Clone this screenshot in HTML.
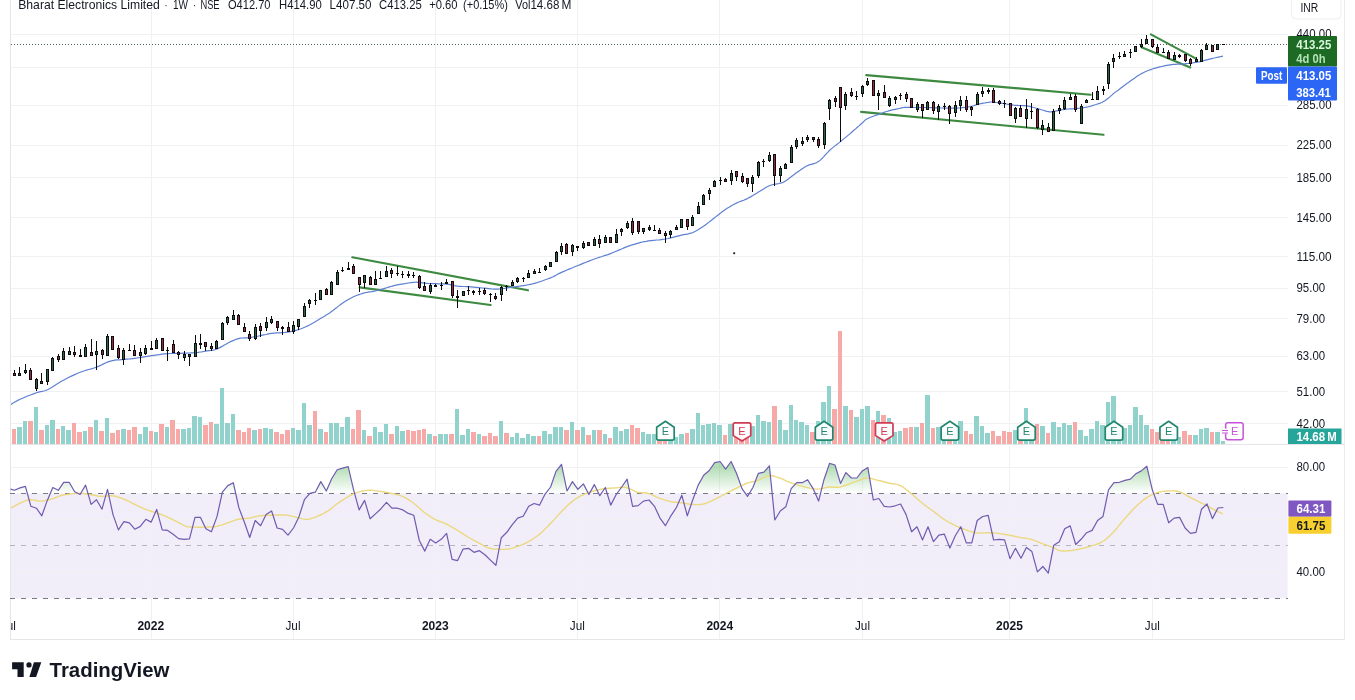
<!DOCTYPE html>
<html lang="en"><head><meta charset="utf-8"><title>Bharat Electronics Limited · 1W · NSE — TradingView</title>
<style>html,body{margin:0;padding:0;background:#fff}body{width:1355px;height:700px;overflow:hidden;position:relative;font-family:"Liberation Sans", Arial, sans-serif}</style>
</head><body>
<svg width="1355" height="700" viewBox="0 0 1355 700" style="position:absolute;left:0;top:0;font-family:"Liberation Sans", Arial, sans-serif">
<defs><linearGradient id="ob" x1="0" y1="467" x2="0" y2="493.4" gradientUnits="userSpaceOnUse"><stop offset="0" stop-color="#4caf50" stop-opacity="0.42"/><stop offset="1" stop-color="#4caf50" stop-opacity="0"/></linearGradient>
<clipPath id="ob70"><rect x="10" y="445" width="1278" height="48.4"/></clipPath>
<clipPath id="plot"><rect x="11" y="0" width="1277" height="640"/></clipPath></defs>
<rect width="1355" height="700" fill="#fff"/>
<rect x="11" y="493.4" width="1276.5" height="104.8" fill="#7e57c2" fill-opacity="0.105"/>
<rect x="11" y="34" width="1277" height="1" fill="#f0f1f3"/>
<rect x="11" y="67" width="1277" height="1" fill="#f0f1f3"/>
<rect x="11" y="105" width="1277" height="1" fill="#f0f1f3"/>
<rect x="11" y="145" width="1277" height="1" fill="#f0f1f3"/>
<rect x="11" y="177" width="1277" height="1" fill="#f0f1f3"/>
<rect x="11" y="217" width="1277" height="1" fill="#f0f1f3"/>
<rect x="11" y="256" width="1277" height="1" fill="#f0f1f3"/>
<rect x="11" y="288" width="1277" height="1" fill="#f0f1f3"/>
<rect x="11" y="318" width="1277" height="1" fill="#f0f1f3"/>
<rect x="11" y="356" width="1277" height="1" fill="#f0f1f3"/>
<rect x="11" y="391" width="1277" height="1" fill="#f0f1f3"/>
<rect x="11" y="423" width="1277" height="1" fill="#f0f1f3"/>
<rect x="11" y="467" width="1277" height="1" fill="#f0f1f3" />
<rect x="11" y="519" width="1277" height="1" fill="#f0f1f3" />
<rect x="11" y="572" width="1277" height="1" fill="#f0f1f3" />
<rect x="151" y="0" width="1" height="640" fill="#f0f1f3"/>
<rect x="293" y="0" width="1" height="640" fill="#f0f1f3"/>
<rect x="435" y="0" width="1" height="640" fill="#f0f1f3"/>
<rect x="577" y="0" width="1" height="640" fill="#f0f1f3"/>
<rect x="719" y="0" width="1" height="640" fill="#f0f1f3"/>
<rect x="862" y="0" width="1" height="640" fill="#f0f1f3"/>
<rect x="1009" y="0" width="1" height="640" fill="#f0f1f3"/>
<rect x="1152" y="0" width="1" height="640" fill="#f0f1f3"/>
<rect x="11" y="444" width="1333" height="1" fill="#e4e6ea"/>
<rect x="10" y="0" width="1" height="640" fill="#e4e6ea"/>
<rect x="1344" y="0" width="1" height="640" fill="#e9eaee"/>
<rect x="10" y="639" width="1335" height="1" fill="#e4e6ea"/>
<g shape-rendering="crispEdges">
<rect x="12" y="429" width="4" height="15" fill="#f7a9a7"/>
<rect x="17" y="427" width="5" height="17" fill="#92d2cc"/>
<rect x="23" y="421" width="4" height="23" fill="#92d2cc"/>
<rect x="28" y="421" width="5" height="23" fill="#f7a9a7"/>
<rect x="34" y="407" width="4" height="37" fill="#92d2cc"/>
<rect x="39" y="430" width="5" height="14" fill="#f7a9a7"/>
<rect x="45" y="425" width="4" height="19" fill="#92d2cc"/>
<rect x="50" y="420" width="5" height="24" fill="#92d2cc"/>
<rect x="56" y="429" width="4" height="15" fill="#f7a9a7"/>
<rect x="61" y="426" width="4" height="18" fill="#92d2cc"/>
<rect x="66" y="430" width="5" height="14" fill="#92d2cc"/>
<rect x="72" y="423" width="4" height="21" fill="#f7a9a7"/>
<rect x="77" y="432" width="5" height="12" fill="#f7a9a7"/>
<rect x="83" y="431" width="4" height="13" fill="#92d2cc"/>
<rect x="88" y="427" width="5" height="17" fill="#f7a9a7"/>
<rect x="94" y="420" width="4" height="24" fill="#92d2cc"/>
<rect x="99" y="431" width="5" height="13" fill="#f7a9a7"/>
<rect x="105" y="418" width="4" height="26" fill="#92d2cc"/>
<rect x="110" y="433" width="5" height="11" fill="#f7a9a7"/>
<rect x="116" y="430" width="4" height="14" fill="#f7a9a7"/>
<rect x="121" y="429" width="5" height="15" fill="#92d2cc"/>
<rect x="127" y="430" width="4" height="14" fill="#f7a9a7"/>
<rect x="132" y="427" width="5" height="17" fill="#f7a9a7"/>
<rect x="138" y="434" width="4" height="10" fill="#92d2cc"/>
<rect x="143" y="427" width="5" height="17" fill="#92d2cc"/>
<rect x="149" y="431" width="4" height="13" fill="#f7a9a7"/>
<rect x="154" y="432" width="4" height="12" fill="#92d2cc"/>
<rect x="159" y="424" width="5" height="20" fill="#f7a9a7"/>
<rect x="165" y="427" width="4" height="17" fill="#92d2cc"/>
<rect x="170" y="420" width="5" height="24" fill="#f7a9a7"/>
<rect x="176" y="429" width="4" height="15" fill="#f7a9a7"/>
<rect x="181" y="429" width="5" height="15" fill="#92d2cc"/>
<rect x="187" y="428" width="4" height="16" fill="#92d2cc"/>
<rect x="192" y="416" width="5" height="28" fill="#92d2cc"/>
<rect x="198" y="417" width="4" height="27" fill="#92d2cc"/>
<rect x="203" y="425" width="5" height="19" fill="#f7a9a7"/>
<rect x="209" y="422" width="4" height="22" fill="#f7a9a7"/>
<rect x="214" y="424" width="5" height="20" fill="#92d2cc"/>
<rect x="220" y="388" width="4" height="56" fill="#92d2cc"/>
<rect x="225" y="423" width="5" height="21" fill="#92d2cc"/>
<rect x="231" y="414" width="4" height="30" fill="#92d2cc"/>
<rect x="236" y="430" width="5" height="14" fill="#f7a9a7"/>
<rect x="242" y="432" width="4" height="12" fill="#f7a9a7"/>
<rect x="247" y="428" width="4" height="16" fill="#f7a9a7"/>
<rect x="252" y="430" width="5" height="14" fill="#92d2cc"/>
<rect x="258" y="429" width="4" height="15" fill="#f7a9a7"/>
<rect x="263" y="428" width="5" height="16" fill="#92d2cc"/>
<rect x="269" y="429" width="4" height="15" fill="#92d2cc"/>
<rect x="274" y="432" width="5" height="12" fill="#f7a9a7"/>
<rect x="280" y="434" width="4" height="10" fill="#f7a9a7"/>
<rect x="285" y="430" width="5" height="14" fill="#f7a9a7"/>
<rect x="291" y="428" width="4" height="16" fill="#92d2cc"/>
<rect x="296" y="430" width="5" height="14" fill="#92d2cc"/>
<rect x="302" y="403" width="4" height="41" fill="#92d2cc"/>
<rect x="307" y="425" width="5" height="19" fill="#92d2cc"/>
<rect x="313" y="411" width="4" height="33" fill="#f7a9a7"/>
<rect x="318" y="429" width="5" height="15" fill="#92d2cc"/>
<rect x="324" y="432" width="4" height="12" fill="#f7a9a7"/>
<rect x="329" y="423" width="4" height="21" fill="#92d2cc"/>
<rect x="334" y="423" width="5" height="21" fill="#92d2cc"/>
<rect x="340" y="427" width="4" height="17" fill="#92d2cc"/>
<rect x="345" y="417" width="5" height="27" fill="#92d2cc"/>
<rect x="351" y="429" width="4" height="15" fill="#f7a9a7"/>
<rect x="356" y="410" width="5" height="34" fill="#f7a9a7"/>
<rect x="362" y="430" width="4" height="14" fill="#92d2cc"/>
<rect x="367" y="436" width="5" height="8" fill="#f7a9a7"/>
<rect x="373" y="427" width="4" height="17" fill="#92d2cc"/>
<rect x="378" y="432" width="5" height="12" fill="#92d2cc"/>
<rect x="384" y="424" width="4" height="20" fill="#92d2cc"/>
<rect x="389" y="434" width="5" height="10" fill="#f7a9a7"/>
<rect x="395" y="426" width="4" height="18" fill="#92d2cc"/>
<rect x="400" y="431" width="5" height="13" fill="#92d2cc"/>
<rect x="406" y="430" width="4" height="14" fill="#f7a9a7"/>
<rect x="411" y="431" width="5" height="13" fill="#f7a9a7"/>
<rect x="417" y="430" width="4" height="14" fill="#f7a9a7"/>
<rect x="422" y="429" width="4" height="15" fill="#f7a9a7"/>
<rect x="427" y="434" width="5" height="10" fill="#92d2cc"/>
<rect x="433" y="436" width="4" height="8" fill="#f7a9a7"/>
<rect x="438" y="434" width="5" height="10" fill="#92d2cc"/>
<rect x="444" y="434" width="4" height="10" fill="#92d2cc"/>
<rect x="449" y="434" width="5" height="10" fill="#f7a9a7"/>
<rect x="455" y="409" width="4" height="35" fill="#92d2cc"/>
<rect x="460" y="435" width="5" height="9" fill="#92d2cc"/>
<rect x="466" y="429" width="4" height="15" fill="#92d2cc"/>
<rect x="471" y="432" width="5" height="12" fill="#f7a9a7"/>
<rect x="477" y="434" width="4" height="10" fill="#92d2cc"/>
<rect x="482" y="436" width="5" height="8" fill="#f7a9a7"/>
<rect x="488" y="433" width="4" height="11" fill="#f7a9a7"/>
<rect x="493" y="436" width="5" height="8" fill="#f7a9a7"/>
<rect x="499" y="421" width="4" height="23" fill="#92d2cc"/>
<rect x="504" y="433" width="5" height="11" fill="#f7a9a7"/>
<rect x="510" y="437" width="4" height="7" fill="#92d2cc"/>
<rect x="515" y="433" width="4" height="11" fill="#92d2cc"/>
<rect x="520" y="438" width="5" height="6" fill="#92d2cc"/>
<rect x="526" y="434" width="4" height="10" fill="#92d2cc"/>
<rect x="531" y="436" width="5" height="8" fill="#92d2cc"/>
<rect x="537" y="436" width="4" height="8" fill="#f7a9a7"/>
<rect x="542" y="431" width="5" height="13" fill="#92d2cc"/>
<rect x="548" y="434" width="4" height="10" fill="#92d2cc"/>
<rect x="553" y="427" width="5" height="17" fill="#92d2cc"/>
<rect x="559" y="427" width="4" height="17" fill="#92d2cc"/>
<rect x="564" y="430" width="5" height="14" fill="#f7a9a7"/>
<rect x="570" y="422" width="4" height="22" fill="#92d2cc"/>
<rect x="575" y="430" width="5" height="14" fill="#f7a9a7"/>
<rect x="581" y="427" width="4" height="17" fill="#92d2cc"/>
<rect x="586" y="435" width="5" height="9" fill="#f7a9a7"/>
<rect x="592" y="430" width="4" height="14" fill="#92d2cc"/>
<rect x="597" y="430" width="5" height="14" fill="#f7a9a7"/>
<rect x="603" y="434" width="4" height="10" fill="#92d2cc"/>
<rect x="608" y="438" width="4" height="6" fill="#f7a9a7"/>
<rect x="613" y="427" width="5" height="17" fill="#92d2cc"/>
<rect x="619" y="431" width="4" height="13" fill="#92d2cc"/>
<rect x="624" y="429" width="5" height="15" fill="#92d2cc"/>
<rect x="630" y="425" width="4" height="19" fill="#f7a9a7"/>
<rect x="635" y="428" width="5" height="16" fill="#f7a9a7"/>
<rect x="641" y="432" width="4" height="12" fill="#92d2cc"/>
<rect x="646" y="434" width="5" height="10" fill="#92d2cc"/>
<rect x="652" y="434" width="4" height="10" fill="#92d2cc"/>
<rect x="657" y="436" width="5" height="8" fill="#f7a9a7"/>
<rect x="663" y="436" width="4" height="8" fill="#f7a9a7"/>
<rect x="668" y="436" width="5" height="8" fill="#92d2cc"/>
<rect x="674" y="437" width="4" height="7" fill="#92d2cc"/>
<rect x="679" y="434" width="5" height="10" fill="#92d2cc"/>
<rect x="685" y="433" width="4" height="11" fill="#f7a9a7"/>
<rect x="690" y="429" width="5" height="15" fill="#92d2cc"/>
<rect x="696" y="413" width="4" height="31" fill="#92d2cc"/>
<rect x="701" y="425" width="4" height="19" fill="#92d2cc"/>
<rect x="706" y="424" width="5" height="20" fill="#92d2cc"/>
<rect x="712" y="423" width="4" height="21" fill="#92d2cc"/>
<rect x="717" y="425" width="5" height="19" fill="#92d2cc"/>
<rect x="723" y="435" width="4" height="9" fill="#f7a9a7"/>
<rect x="728" y="424" width="5" height="20" fill="#92d2cc"/>
<rect x="734" y="432" width="4" height="12" fill="#f7a9a7"/>
<rect x="739" y="432" width="5" height="12" fill="#f7a9a7"/>
<rect x="745" y="436" width="4" height="8" fill="#f7a9a7"/>
<rect x="750" y="426" width="5" height="18" fill="#92d2cc"/>
<rect x="756" y="415" width="4" height="29" fill="#92d2cc"/>
<rect x="761" y="421" width="5" height="23" fill="#92d2cc"/>
<rect x="767" y="422" width="4" height="22" fill="#92d2cc"/>
<rect x="772" y="406" width="5" height="38" fill="#f7a9a7"/>
<rect x="778" y="420" width="4" height="24" fill="#92d2cc"/>
<rect x="783" y="430" width="5" height="14" fill="#92d2cc"/>
<rect x="789" y="405" width="4" height="39" fill="#92d2cc"/>
<rect x="794" y="420" width="4" height="24" fill="#92d2cc"/>
<rect x="799" y="422" width="5" height="22" fill="#92d2cc"/>
<rect x="805" y="425" width="4" height="19" fill="#92d2cc"/>
<rect x="810" y="432" width="5" height="12" fill="#f7a9a7"/>
<rect x="816" y="421" width="4" height="23" fill="#92d2cc"/>
<rect x="821" y="402" width="5" height="42" fill="#92d2cc"/>
<rect x="827" y="386" width="4" height="58" fill="#92d2cc"/>
<rect x="832" y="409" width="5" height="35" fill="#f7a9a7"/>
<rect x="838" y="331" width="4" height="113" fill="#f7a9a7"/>
<rect x="843" y="406" width="5" height="38" fill="#92d2cc"/>
<rect x="849" y="410" width="4" height="34" fill="#f7a9a7"/>
<rect x="854" y="417" width="5" height="27" fill="#92d2cc"/>
<rect x="860" y="409" width="4" height="35" fill="#92d2cc"/>
<rect x="865" y="406" width="5" height="38" fill="#92d2cc"/>
<rect x="871" y="420" width="4" height="24" fill="#f7a9a7"/>
<rect x="876" y="411" width="4" height="33" fill="#92d2cc"/>
<rect x="881" y="415" width="5" height="29" fill="#f7a9a7"/>
<rect x="887" y="418" width="4" height="26" fill="#92d2cc"/>
<rect x="892" y="432" width="5" height="12" fill="#92d2cc"/>
<rect x="898" y="431" width="4" height="13" fill="#92d2cc"/>
<rect x="903" y="428" width="5" height="16" fill="#f7a9a7"/>
<rect x="909" y="427" width="4" height="17" fill="#f7a9a7"/>
<rect x="914" y="427" width="5" height="17" fill="#92d2cc"/>
<rect x="920" y="423" width="4" height="21" fill="#f7a9a7"/>
<rect x="925" y="395" width="5" height="49" fill="#92d2cc"/>
<rect x="931" y="428" width="4" height="16" fill="#f7a9a7"/>
<rect x="936" y="427" width="5" height="17" fill="#92d2cc"/>
<rect x="942" y="432" width="4" height="12" fill="#92d2cc"/>
<rect x="947" y="430" width="5" height="14" fill="#f7a9a7"/>
<rect x="953" y="426" width="4" height="18" fill="#92d2cc"/>
<rect x="958" y="421" width="5" height="23" fill="#92d2cc"/>
<rect x="964" y="431" width="4" height="13" fill="#f7a9a7"/>
<rect x="969" y="434" width="4" height="10" fill="#f7a9a7"/>
<rect x="974" y="416" width="5" height="28" fill="#92d2cc"/>
<rect x="980" y="426" width="4" height="18" fill="#92d2cc"/>
<rect x="985" y="433" width="5" height="11" fill="#92d2cc"/>
<rect x="991" y="431" width="4" height="13" fill="#f7a9a7"/>
<rect x="996" y="436" width="5" height="8" fill="#f7a9a7"/>
<rect x="1002" y="431" width="4" height="13" fill="#f7a9a7"/>
<rect x="1007" y="432" width="5" height="12" fill="#f7a9a7"/>
<rect x="1013" y="430" width="4" height="14" fill="#92d2cc"/>
<rect x="1018" y="432" width="5" height="12" fill="#f7a9a7"/>
<rect x="1024" y="408" width="4" height="36" fill="#92d2cc"/>
<rect x="1029" y="430" width="5" height="14" fill="#92d2cc"/>
<rect x="1035" y="424" width="4" height="20" fill="#f7a9a7"/>
<rect x="1040" y="426" width="5" height="18" fill="#92d2cc"/>
<rect x="1046" y="433" width="4" height="11" fill="#f7a9a7"/>
<rect x="1051" y="422" width="5" height="22" fill="#92d2cc"/>
<rect x="1057" y="427" width="4" height="17" fill="#92d2cc"/>
<rect x="1062" y="423" width="4" height="21" fill="#92d2cc"/>
<rect x="1067" y="425" width="5" height="19" fill="#92d2cc"/>
<rect x="1073" y="422" width="4" height="22" fill="#f7a9a7"/>
<rect x="1078" y="430" width="5" height="14" fill="#92d2cc"/>
<rect x="1084" y="436" width="4" height="8" fill="#92d2cc"/>
<rect x="1089" y="429" width="5" height="15" fill="#92d2cc"/>
<rect x="1095" y="421" width="4" height="23" fill="#92d2cc"/>
<rect x="1100" y="425" width="5" height="19" fill="#92d2cc"/>
<rect x="1106" y="402" width="4" height="42" fill="#92d2cc"/>
<rect x="1111" y="396" width="5" height="48" fill="#92d2cc"/>
<rect x="1117" y="430" width="4" height="14" fill="#92d2cc"/>
<rect x="1122" y="428" width="5" height="16" fill="#92d2cc"/>
<rect x="1128" y="425" width="4" height="19" fill="#92d2cc"/>
<rect x="1133" y="407" width="5" height="37" fill="#92d2cc"/>
<rect x="1139" y="415" width="4" height="29" fill="#92d2cc"/>
<rect x="1144" y="425" width="5" height="19" fill="#92d2cc"/>
<rect x="1150" y="429" width="4" height="15" fill="#f7a9a7"/>
<rect x="1155" y="432" width="4" height="12" fill="#f7a9a7"/>
<rect x="1160" y="434" width="5" height="10" fill="#f7a9a7"/>
<rect x="1166" y="434" width="4" height="10" fill="#f7a9a7"/>
<rect x="1171" y="434" width="5" height="10" fill="#92d2cc"/>
<rect x="1177" y="437" width="4" height="7" fill="#92d2cc"/>
<rect x="1182" y="431" width="5" height="13" fill="#f7a9a7"/>
<rect x="1188" y="435" width="4" height="9" fill="#f7a9a7"/>
<rect x="1193" y="435" width="5" height="9" fill="#92d2cc"/>
<rect x="1199" y="429" width="4" height="15" fill="#92d2cc"/>
<rect x="1204" y="428" width="5" height="16" fill="#92d2cc"/>
<rect x="1210" y="432" width="4" height="12" fill="#f7a9a7"/>
<rect x="1215" y="432" width="5" height="12" fill="#92d2cc"/>
<rect x="1221" y="441" width="4" height="3" fill="#92d2cc"/>
</g>
<line x1="352.3" y1="257.3" x2="528" y2="290.2" stroke="#3d8a40" stroke-width="2.1" stroke-linecap="round"/>
<line x1="359.6" y1="287.4" x2="490.6" y2="305" stroke="#3d8a40" stroke-width="2.1" stroke-linecap="round"/>
<line x1="866.3" y1="75.1" x2="1090.7" y2="94.7" stroke="#3d8a40" stroke-width="2.1" stroke-linecap="round"/>
<line x1="861.1" y1="111.9" x2="1103.5" y2="134.8" stroke="#3d8a40" stroke-width="2.1" stroke-linecap="round"/>
<line x1="1150.9" y1="34.4" x2="1196" y2="58.7" stroke="#3d8a40" stroke-width="2.1" stroke-linecap="round"/>
<line x1="1141.5" y1="47.3" x2="1190.3" y2="67.5" stroke="#3d8a40" stroke-width="2.1" stroke-linecap="round"/>
<path d="M10.0 405.0 L11.0 404.4 L12.3 403.6 L14.0 402.6 L15.8 401.5 L17.8 400.4 L20.0 399.3 L22.5 398.2 L25.3 397.0 L28.2 395.8 L31.2 394.7 L34.1 393.6 L36.6 392.7 L38.7 392.1 L40.5 391.7 L42.1 391.4 L43.7 391.0 L45.5 390.5 L47.5 389.7 L49.8 388.5 L52.4 387.0 L55.1 385.3 L57.8 383.5 L60.6 381.8 L63.4 380.2 L66.2 378.7 L69.0 377.3 L71.9 375.9 L74.8 374.6 L77.6 373.3 L80.4 372.2 L83.2 371.2 L85.9 370.3 L88.6 369.5 L91.3 368.8 L94.0 368.0 L96.5 367.1 L99.0 366.1 L101.3 365.0 L103.6 363.9 L105.9 362.8 L108.1 361.9 L110.4 361.1 L112.7 360.6 L114.9 360.2 L117.2 359.9 L119.4 359.8 L121.5 359.6 L123.6 359.4 L125.5 359.2 L127.2 359.1 L128.8 359.0 L130.5 358.8 L132.4 358.7 L134.5 358.4 L137.0 358.0 L139.7 357.6 L142.6 357.1 L145.6 356.6 L148.6 356.1 L151.4 355.7 L154.1 355.3 L156.8 354.9 L159.4 354.6 L162.1 354.2 L164.7 353.9 L167.4 353.7 L170.1 353.5 L172.9 353.4 L175.8 353.4 L178.5 353.3 L181.1 353.3 L183.5 353.2 L185.6 353.1 L187.5 353.1 L189.3 353.0 L191.0 352.9 L192.7 352.8 L194.5 352.7 L196.3 352.5 L198.2 352.3 L200.0 352.0 L201.8 351.8 L203.7 351.5 L205.5 351.2 L207.3 350.9 L209.2 350.7 L211.0 350.5 L212.8 350.2 L214.7 349.8 L216.5 349.2 L218.3 348.4 L220.2 347.4 L222.1 346.4 L223.9 345.2 L225.8 344.2 L227.6 343.2 L229.4 342.3 L231.2 341.4 L233.1 340.6 L234.9 339.8 L236.7 339.1 L238.5 338.6 L240.3 338.2 L242.1 338.0 L243.9 337.9 L245.8 337.9 L247.6 337.8 L249.4 337.6 L251.2 337.3 L253.1 337.0 L254.9 336.7 L256.8 336.3 L258.6 336.0 L260.5 335.6 L262.3 335.2 L264.0 334.8 L265.8 334.5 L267.6 334.1 L269.5 333.7 L271.6 333.4 L274.0 333.1 L276.7 332.9 L279.5 332.8 L282.3 332.6 L285.0 332.4 L287.4 332.1 L289.5 331.8 L291.5 331.4 L293.3 331.1 L295.1 330.6 L296.8 330.2 L298.6 329.6 L300.4 329.0 L302.3 328.3 L304.1 327.5 L305.9 326.7 L307.7 325.9 L309.5 325.0 L311.3 324.0 L313.1 323.0 L314.9 321.9 L316.8 320.8 L318.6 319.7 L320.4 318.6 L322.2 317.5 L324.1 316.4 L325.9 315.2 L327.8 314.1 L329.7 312.9 L331.5 311.6 L333.3 310.3 L335.1 308.8 L337.0 307.4 L338.8 305.9 L340.6 304.5 L342.4 303.2 L344.2 302.0 L346.1 300.8 L347.9 299.7 L349.7 298.7 L351.6 297.7 L353.4 296.8 L355.2 296.0 L357.1 295.2 L359.0 294.6 L360.8 294.0 L362.7 293.4 L364.5 292.9 L366.3 292.5 L368.1 292.2 L369.9 291.9 L371.8 291.7 L373.6 291.4 L375.4 291.0 L377.3 290.5 L379.1 290.0 L381.0 289.4 L382.9 288.9 L384.7 288.3 L386.5 287.8 L388.1 287.3 L389.5 286.9 L390.8 286.5 L392.3 286.1 L394.0 285.6 L396.0 285.2 L398.6 284.7 L401.7 284.1 L405.0 283.6 L408.3 283.0 L411.2 282.6 L413.6 282.3 L415.2 282.2 L416.3 282.1 L417.0 282.2 L417.7 282.3 L418.4 282.5 L419.6 282.6 L421.1 282.7 L422.7 282.9 L424.5 283.1 L426.5 283.3 L428.5 283.5 L430.7 283.6 L433.1 283.7 L435.8 283.7 L438.6 283.8 L441.4 283.8 L444.1 283.9 L446.5 284.1 L448.6 284.4 L450.5 284.7 L452.3 285.2 L454.0 285.6 L455.7 285.9 L457.5 286.2 L459.3 286.4 L460.9 286.4 L462.6 286.5 L464.4 286.5 L466.3 286.6 L468.4 286.7 L470.8 286.9 L473.6 287.1 L476.4 287.4 L479.3 287.7 L482.1 288.0 L484.5 288.2 L486.7 288.4 L488.7 288.6 L490.6 288.8 L492.4 289.0 L494.0 289.1 L495.5 289.2 L496.7 289.2 L497.7 289.2 L498.4 289.1 L499.2 289.0 L500.2 288.9 L501.4 288.7 L503.0 288.5 L504.7 288.3 L506.6 288.0 L508.6 287.7 L510.6 287.5 L512.5 287.2 L514.3 286.9 L516.2 286.7 L518.0 286.4 L519.8 286.2 L521.7 285.9 L523.5 285.6 L525.3 285.3 L527.0 285.0 L528.7 284.7 L530.5 284.3 L532.5 283.9 L534.6 283.3 L537.0 282.6 L539.7 281.7 L542.6 280.8 L545.4 279.8 L548.1 278.8 L550.5 277.9 L552.6 277.0 L554.3 276.1 L556.0 275.2 L557.6 274.3 L559.4 273.4 L561.5 272.4 L563.9 271.4 L566.4 270.3 L569.1 269.1 L571.9 268.0 L574.7 266.8 L577.5 265.7 L580.3 264.6 L583.1 263.4 L586.0 262.3 L588.9 261.1 L591.7 260.0 L594.5 259.0 L597.2 258.0 L599.9 257.2 L602.6 256.3 L605.2 255.4 L607.9 254.6 L610.5 253.6 L613.2 252.5 L616.0 251.3 L618.8 250.1 L621.5 249.0 L624.0 247.9 L626.4 246.9 L628.5 246.1 L630.5 245.4 L632.3 244.8 L634.0 244.3 L635.7 243.8 L637.5 243.3 L639.3 242.8 L640.9 242.4 L642.6 242.0 L644.3 241.6 L646.2 241.3 L648.4 240.9 L650.9 240.6 L653.7 240.3 L656.6 240.0 L659.6 239.8 L662.6 239.4 L665.4 239.0 L668.2 238.5 L671.0 237.8 L673.8 237.1 L676.5 236.4 L679.0 235.8 L681.4 235.2 L683.5 234.7 L685.5 234.4 L687.3 234.1 L689.1 233.7 L690.8 233.2 L692.6 232.6 L694.4 231.8 L696.3 230.8 L698.1 229.8 L699.9 228.6 L701.7 227.4 L703.5 226.2 L705.3 224.9 L707.2 223.5 L709.0 222.1 L710.8 220.7 L712.7 219.2 L714.5 217.8 L716.3 216.4 L718.1 215.0 L720.0 213.5 L721.8 212.1 L723.6 210.8 L725.4 209.5 L727.2 208.3 L729.1 207.2 L730.9 206.1 L732.7 205.0 L734.6 204.0 L736.4 203.1 L738.2 202.3 L740.1 201.5 L741.9 200.9 L743.7 200.2 L745.6 199.4 L747.4 198.6 L749.2 197.6 L751.1 196.6 L752.9 195.5 L754.8 194.3 L756.7 193.2 L758.5 192.1 L760.3 191.0 L762.2 189.8 L764.0 188.7 L765.8 187.5 L767.7 186.5 L769.5 185.7 L771.4 185.0 L773.4 184.5 L775.3 184.1 L777.2 183.8 L778.9 183.5 L780.4 183.1 L781.5 182.8 L782.3 182.6 L782.9 182.4 L783.5 182.1 L784.3 181.7 L785.4 181.0 L786.9 180.0 L788.6 178.7 L790.5 177.2 L792.5 175.7 L794.5 174.2 L796.4 172.8 L798.2 171.5 L800.1 170.2 L801.9 168.9 L803.8 167.7 L805.7 166.6 L807.5 165.6 L809.3 164.8 L811.2 164.3 L813.0 163.8 L814.8 163.3 L816.7 162.6 L818.5 161.6 L820.3 160.1 L822.2 158.3 L824.0 156.4 L825.8 154.3 L827.7 152.3 L829.5 150.5 L831.3 148.9 L833.1 147.4 L835.0 145.9 L836.8 144.5 L838.6 143.1 L840.4 141.6 L842.2 140.1 L844.1 138.6 L845.9 137.1 L847.7 135.6 L849.6 134.1 L851.4 132.5 L853.3 130.8 L855.3 129.1 L857.3 127.3 L859.3 125.6 L861.0 124.0 L862.5 122.7 L863.6 121.7 L864.4 120.9 L864.9 120.4 L865.5 119.8 L866.3 119.3 L867.4 118.7 L868.9 118.0 L870.6 117.3 L872.6 116.5 L874.6 115.8 L876.6 115.1 L878.5 114.4 L880.3 113.7 L882.2 113.1 L884.0 112.4 L885.8 111.8 L887.7 111.2 L889.5 110.7 L891.4 110.2 L893.4 109.7 L895.4 109.3 L897.3 108.9 L899.0 108.5 L900.5 108.2 L901.6 107.9 L902.4 107.7 L903.0 107.6 L903.6 107.5 L904.4 107.4 L905.5 107.3 L907.0 107.3 L908.7 107.3 L910.6 107.3 L912.6 107.4 L914.6 107.5 L916.5 107.5 L918.3 107.5 L920.1 107.5 L921.9 107.5 L923.8 107.5 L925.6 107.5 L927.4 107.5 L929.2 107.5 L931.1 107.6 L932.9 107.7 L934.8 107.8 L936.7 107.8 L938.5 107.9 L940.3 108.0 L942.2 108.0 L944.0 108.1 L945.8 108.1 L947.7 108.2 L949.5 108.2 L951.3 108.2 L953.2 108.2 L955.0 108.2 L956.8 108.1 L958.7 108.0 L960.5 107.9 L962.4 107.7 L964.3 107.5 L966.3 107.3 L968.1 107.0 L969.9 106.7 L971.4 106.4 L972.6 106.1 L973.6 105.8 L974.4 105.4 L975.3 105.1 L976.3 104.7 L977.5 104.4 L979.1 104.0 L981.0 103.6 L983.1 103.2 L985.1 102.9 L987.0 102.5 L988.5 102.3 L989.6 102.1 L990.4 102.0 L991.1 102.0 L991.7 102.0 L992.5 102.0 L993.6 102.1 L995.1 102.3 L996.8 102.5 L998.7 102.8 L1000.6 103.1 L1002.6 103.4 L1004.5 103.7 L1006.3 104.0 L1008.2 104.3 L1010.0 104.6 L1011.8 104.8 L1013.7 105.1 L1015.5 105.3 L1017.3 105.4 L1019.1 105.5 L1021.0 105.5 L1022.8 105.6 L1024.6 105.7 L1026.4 105.9 L1028.2 106.2 L1030.1 106.6 L1031.9 107.0 L1033.7 107.5 L1035.6 108.0 L1037.4 108.5 L1039.3 109.0 L1041.3 109.7 L1043.3 110.3 L1045.2 110.9 L1047.0 111.4 L1048.5 111.7 L1049.6 111.9 L1050.4 111.9 L1051.0 111.9 L1051.6 111.8 L1052.4 111.6 L1053.5 111.4 L1055.0 111.2 L1056.8 110.8 L1058.7 110.4 L1060.7 110.0 L1062.7 109.7 L1064.6 109.4 L1066.4 109.2 L1068.3 109.0 L1070.1 108.9 L1071.9 108.8 L1073.8 108.7 L1075.6 108.5 L1077.4 108.3 L1079.2 108.2 L1081.0 108.0 L1082.9 107.8 L1084.7 107.5 L1086.5 107.2 L1088.4 106.8 L1090.4 106.2 L1092.4 105.6 L1094.3 105.0 L1096.0 104.5 L1097.5 104.0 L1098.7 103.6 L1099.6 103.4 L1100.3 103.1 L1101.0 102.8 L1101.7 102.5 L1102.5 102.1 L1103.5 101.5 L1104.5 100.9 L1105.5 100.2 L1106.5 99.5 L1107.5 98.7 L1108.5 98.0 L1109.4 97.3 L1110.2 96.6 L1111.0 95.8 L1111.8 95.1 L1112.6 94.3 L1113.5 93.6 L1114.4 92.9 L1115.2 92.3 L1116.1 91.6 L1117.0 90.9 L1118.1 90.2 L1119.4 89.2 L1120.9 88.0 L1122.7 86.7 L1124.6 85.3 L1126.5 83.8 L1128.5 82.4 L1130.4 81.0 L1132.2 79.7 L1134.1 78.4 L1136.0 77.1 L1137.8 75.8 L1139.7 74.7 L1141.5 73.6 L1143.3 72.7 L1145.2 71.8 L1147.0 71.0 L1148.8 70.3 L1150.7 69.6 L1152.5 69.0 L1154.3 68.4 L1156.2 67.9 L1158.0 67.4 L1159.8 66.9 L1161.6 66.5 L1163.4 66.1 L1165.1 65.7 L1166.8 65.4 L1168.4 65.1 L1170.1 64.8 L1171.8 64.6 L1173.5 64.4 L1175.3 64.3 L1177.1 64.2 L1179.0 64.1 L1180.8 64.1 L1182.7 64.0 L1184.5 63.9 L1186.4 63.7 L1188.3 63.5 L1190.3 63.2 L1192.1 63.0 L1193.9 62.7 L1195.4 62.5 L1196.6 62.3 L1197.6 62.1 L1198.4 62.0 L1199.3 61.8 L1200.3 61.6 L1201.5 61.3 L1203.1 60.9 L1204.8 60.4 L1206.7 59.9 L1208.7 59.4 L1210.6 58.9 L1212.5 58.4 L1214.4 58.0 L1216.4 57.5 L1218.4 57.1 L1220.3 56.7 L1221.9 56.3 L1223.0 56.1" fill="none" stroke="#5f80d2" stroke-width="1.2" stroke-linejoin="round" clip-path="url(#plot)"/>
<rect x="733.2" y="252.2" width="2" height="2" rx="0.6" fill="#222"/>
<line x1="11" y1="44.5" x2="1288" y2="44.5" stroke="#4f6553" stroke-width="1" stroke-dasharray="1 2"/>
<g shape-rendering="crispEdges">
<rect x="14" y="370" width="1" height="6" fill="#0c0c0c"/>
<rect x="13" y="373" width="3" height="3" fill="#0c0c0c"/>
<rect x="14" y="374" width="1" height="1" fill="#962a44"/>
<rect x="19" y="367" width="1" height="9" fill="#0c0c0c"/>
<rect x="18" y="373" width="3" height="3" fill="#0c0c0c"/>
<rect x="19" y="374" width="1" height="1" fill="#2a6445"/>
<rect x="25" y="364" width="1" height="10" fill="#0c0c0c"/>
<rect x="24" y="370" width="3" height="3" fill="#0c0c0c"/>
<rect x="25" y="371" width="1" height="1" fill="#2a6445"/>
<rect x="30" y="368" width="1" height="12" fill="#0c0c0c"/>
<rect x="29" y="370" width="3" height="10" fill="#0c0c0c"/>
<rect x="30" y="371" width="1" height="8" fill="#962a44"/>
<rect x="36" y="378" width="1" height="13" fill="#0c0c0c"/>
<rect x="35" y="379" width="3" height="10" fill="#0c0c0c"/>
<rect x="36" y="380" width="1" height="8" fill="#2a6445"/>
<rect x="41" y="373" width="1" height="11" fill="#0c0c0c"/>
<rect x="40" y="381" width="3" height="3" fill="#0c0c0c"/>
<rect x="41" y="382" width="1" height="1" fill="#962a44"/>
<rect x="47" y="369" width="1" height="16" fill="#0c0c0c"/>
<rect x="46" y="369" width="3" height="13" fill="#0c0c0c"/>
<rect x="47" y="370" width="1" height="11" fill="#2a6445"/>
<rect x="52" y="357" width="1" height="14" fill="#0c0c0c"/>
<rect x="51" y="358" width="3" height="13" fill="#0c0c0c"/>
<rect x="52" y="359" width="1" height="11" fill="#2a6445"/>
<rect x="58" y="354" width="1" height="8" fill="#0c0c0c"/>
<rect x="57" y="356" width="3" height="4" fill="#0c0c0c"/>
<rect x="58" y="357" width="1" height="2" fill="#962a44"/>
<rect x="63" y="348" width="1" height="12" fill="#0c0c0c"/>
<rect x="62" y="351" width="3" height="9" fill="#0c0c0c"/>
<rect x="63" y="352" width="1" height="7" fill="#2a6445"/>
<rect x="69" y="347" width="1" height="8" fill="#0c0c0c"/>
<rect x="68" y="351" width="3" height="4" fill="#0c0c0c"/>
<rect x="69" y="352" width="1" height="2" fill="#2a6445"/>
<rect x="74" y="346" width="1" height="11" fill="#0c0c0c"/>
<rect x="73" y="352" width="3" height="3" fill="#0c0c0c"/>
<rect x="74" y="353" width="1" height="1" fill="#962a44"/>
<rect x="80" y="349" width="1" height="8" fill="#0c0c0c"/>
<rect x="79" y="355" width="3" height="2" fill="#0c0c0c"/>
<rect x="85" y="344" width="1" height="13" fill="#0c0c0c"/>
<rect x="84" y="347" width="3" height="10" fill="#0c0c0c"/>
<rect x="85" y="348" width="1" height="8" fill="#2a6445"/>
<rect x="91" y="339" width="1" height="17" fill="#0c0c0c"/>
<rect x="90" y="352" width="3" height="4" fill="#0c0c0c"/>
<rect x="91" y="353" width="1" height="2" fill="#962a44"/>
<rect x="96" y="341" width="1" height="29" fill="#0c0c0c"/>
<rect x="95" y="351" width="3" height="4" fill="#0c0c0c"/>
<rect x="96" y="352" width="1" height="2" fill="#2a6445"/>
<rect x="102" y="349" width="1" height="10" fill="#0c0c0c"/>
<rect x="101" y="350" width="3" height="5" fill="#0c0c0c"/>
<rect x="102" y="351" width="1" height="3" fill="#962a44"/>
<rect x="107" y="334" width="1" height="22" fill="#0c0c0c"/>
<rect x="106" y="336" width="3" height="20" fill="#0c0c0c"/>
<rect x="107" y="337" width="1" height="18" fill="#2a6445"/>
<rect x="112" y="336" width="1" height="14" fill="#0c0c0c"/>
<rect x="111" y="336" width="3" height="14" fill="#0c0c0c"/>
<rect x="112" y="337" width="1" height="12" fill="#962a44"/>
<rect x="118" y="345" width="1" height="14" fill="#0c0c0c"/>
<rect x="117" y="348" width="3" height="10" fill="#0c0c0c"/>
<rect x="118" y="349" width="1" height="8" fill="#962a44"/>
<rect x="123" y="348" width="1" height="17" fill="#0c0c0c"/>
<rect x="122" y="350" width="3" height="10" fill="#0c0c0c"/>
<rect x="123" y="351" width="1" height="8" fill="#2a6445"/>
<rect x="129" y="344" width="1" height="7" fill="#0c0c0c"/>
<rect x="128" y="350" width="3" height="1" fill="#0c0c0c"/>
<rect x="134" y="345" width="1" height="11" fill="#0c0c0c"/>
<rect x="133" y="350" width="3" height="6" fill="#0c0c0c"/>
<rect x="134" y="351" width="1" height="4" fill="#962a44"/>
<rect x="140" y="348" width="1" height="15" fill="#0c0c0c"/>
<rect x="139" y="352" width="3" height="4" fill="#0c0c0c"/>
<rect x="140" y="353" width="1" height="2" fill="#2a6445"/>
<rect x="145" y="345" width="1" height="10" fill="#0c0c0c"/>
<rect x="144" y="348" width="3" height="6" fill="#0c0c0c"/>
<rect x="145" y="349" width="1" height="4" fill="#2a6445"/>
<rect x="151" y="341" width="1" height="9" fill="#0c0c0c"/>
<rect x="150" y="348" width="3" height="2" fill="#0c0c0c"/>
<rect x="156" y="338" width="1" height="11" fill="#0c0c0c"/>
<rect x="155" y="340" width="3" height="9" fill="#0c0c0c"/>
<rect x="156" y="341" width="1" height="7" fill="#2a6445"/>
<rect x="162" y="338" width="1" height="13" fill="#0c0c0c"/>
<rect x="161" y="338" width="3" height="13" fill="#0c0c0c"/>
<rect x="162" y="339" width="1" height="11" fill="#962a44"/>
<rect x="167" y="347" width="1" height="14" fill="#0c0c0c"/>
<rect x="166" y="350" width="3" height="1" fill="#0c0c0c"/>
<rect x="173" y="340" width="1" height="13" fill="#0c0c0c"/>
<rect x="172" y="344" width="3" height="9" fill="#0c0c0c"/>
<rect x="173" y="345" width="1" height="7" fill="#962a44"/>
<rect x="178" y="351" width="1" height="8" fill="#0c0c0c"/>
<rect x="177" y="352" width="3" height="3" fill="#0c0c0c"/>
<rect x="178" y="353" width="1" height="1" fill="#962a44"/>
<rect x="184" y="351" width="1" height="10" fill="#0c0c0c"/>
<rect x="183" y="354" width="3" height="4" fill="#0c0c0c"/>
<rect x="184" y="355" width="1" height="2" fill="#2a6445"/>
<rect x="189" y="354" width="1" height="12" fill="#0c0c0c"/>
<rect x="188" y="354" width="3" height="3" fill="#0c0c0c"/>
<rect x="189" y="355" width="1" height="1" fill="#2a6445"/>
<rect x="195" y="335" width="1" height="22" fill="#0c0c0c"/>
<rect x="194" y="343" width="3" height="14" fill="#0c0c0c"/>
<rect x="195" y="344" width="1" height="12" fill="#2a6445"/>
<rect x="200" y="334" width="1" height="15" fill="#0c0c0c"/>
<rect x="199" y="343" width="3" height="2" fill="#0c0c0c"/>
<rect x="205" y="342" width="1" height="9" fill="#0c0c0c"/>
<rect x="204" y="342" width="3" height="5" fill="#0c0c0c"/>
<rect x="205" y="343" width="1" height="3" fill="#962a44"/>
<rect x="211" y="343" width="1" height="8" fill="#0c0c0c"/>
<rect x="210" y="346" width="3" height="3" fill="#0c0c0c"/>
<rect x="211" y="347" width="1" height="1" fill="#962a44"/>
<rect x="216" y="340" width="1" height="9" fill="#0c0c0c"/>
<rect x="215" y="341" width="3" height="8" fill="#0c0c0c"/>
<rect x="216" y="342" width="1" height="6" fill="#2a6445"/>
<rect x="222" y="322" width="1" height="18" fill="#0c0c0c"/>
<rect x="221" y="323" width="3" height="17" fill="#0c0c0c"/>
<rect x="222" y="324" width="1" height="15" fill="#2a6445"/>
<rect x="227" y="316" width="1" height="9" fill="#0c0c0c"/>
<rect x="226" y="317" width="3" height="6" fill="#0c0c0c"/>
<rect x="227" y="318" width="1" height="4" fill="#2a6445"/>
<rect x="233" y="310" width="1" height="10" fill="#0c0c0c"/>
<rect x="232" y="315" width="3" height="5" fill="#0c0c0c"/>
<rect x="233" y="316" width="1" height="3" fill="#2a6445"/>
<rect x="238" y="314" width="1" height="11" fill="#0c0c0c"/>
<rect x="237" y="315" width="3" height="10" fill="#0c0c0c"/>
<rect x="238" y="316" width="1" height="8" fill="#962a44"/>
<rect x="244" y="323" width="1" height="9" fill="#0c0c0c"/>
<rect x="243" y="327" width="3" height="5" fill="#0c0c0c"/>
<rect x="244" y="328" width="1" height="3" fill="#962a44"/>
<rect x="249" y="331" width="1" height="10" fill="#0c0c0c"/>
<rect x="248" y="334" width="3" height="5" fill="#0c0c0c"/>
<rect x="249" y="335" width="1" height="3" fill="#962a44"/>
<rect x="255" y="324" width="1" height="16" fill="#0c0c0c"/>
<rect x="254" y="327" width="3" height="12" fill="#0c0c0c"/>
<rect x="255" y="328" width="1" height="10" fill="#2a6445"/>
<rect x="260" y="323" width="1" height="14" fill="#0c0c0c"/>
<rect x="259" y="326" width="3" height="5" fill="#0c0c0c"/>
<rect x="260" y="327" width="1" height="3" fill="#962a44"/>
<rect x="266" y="317" width="1" height="14" fill="#0c0c0c"/>
<rect x="265" y="322" width="3" height="6" fill="#0c0c0c"/>
<rect x="266" y="323" width="1" height="4" fill="#2a6445"/>
<rect x="271" y="316" width="1" height="8" fill="#0c0c0c"/>
<rect x="270" y="319" width="3" height="4" fill="#0c0c0c"/>
<rect x="271" y="320" width="1" height="2" fill="#2a6445"/>
<rect x="277" y="321" width="1" height="10" fill="#0c0c0c"/>
<rect x="276" y="321" width="3" height="7" fill="#0c0c0c"/>
<rect x="277" y="322" width="1" height="5" fill="#962a44"/>
<rect x="282" y="326" width="1" height="9" fill="#0c0c0c"/>
<rect x="281" y="327" width="3" height="2" fill="#0c0c0c"/>
<rect x="288" y="322" width="1" height="10" fill="#0c0c0c"/>
<rect x="287" y="327" width="3" height="5" fill="#0c0c0c"/>
<rect x="288" y="328" width="1" height="3" fill="#962a44"/>
<rect x="293" y="321" width="1" height="13" fill="#0c0c0c"/>
<rect x="292" y="325" width="3" height="7" fill="#0c0c0c"/>
<rect x="293" y="326" width="1" height="5" fill="#2a6445"/>
<rect x="298" y="319" width="1" height="11" fill="#0c0c0c"/>
<rect x="297" y="319" width="3" height="8" fill="#0c0c0c"/>
<rect x="298" y="320" width="1" height="6" fill="#2a6445"/>
<rect x="304" y="303" width="1" height="14" fill="#0c0c0c"/>
<rect x="303" y="306" width="3" height="11" fill="#0c0c0c"/>
<rect x="304" y="307" width="1" height="9" fill="#2a6445"/>
<rect x="309" y="299" width="1" height="9" fill="#0c0c0c"/>
<rect x="308" y="300" width="3" height="4" fill="#0c0c0c"/>
<rect x="309" y="301" width="1" height="2" fill="#2a6445"/>
<rect x="315" y="293" width="1" height="12" fill="#0c0c0c"/>
<rect x="314" y="300" width="3" height="1" fill="#0c0c0c"/>
<rect x="320" y="290" width="1" height="10" fill="#0c0c0c"/>
<rect x="319" y="290" width="3" height="10" fill="#0c0c0c"/>
<rect x="320" y="291" width="1" height="8" fill="#2a6445"/>
<rect x="326" y="288" width="1" height="7" fill="#0c0c0c"/>
<rect x="325" y="289" width="3" height="6" fill="#0c0c0c"/>
<rect x="326" y="290" width="1" height="4" fill="#962a44"/>
<rect x="331" y="281" width="1" height="14" fill="#0c0c0c"/>
<rect x="330" y="282" width="3" height="13" fill="#0c0c0c"/>
<rect x="331" y="283" width="1" height="11" fill="#2a6445"/>
<rect x="337" y="270" width="1" height="15" fill="#0c0c0c"/>
<rect x="336" y="272" width="3" height="13" fill="#0c0c0c"/>
<rect x="337" y="273" width="1" height="11" fill="#2a6445"/>
<rect x="342" y="267" width="1" height="5" fill="#0c0c0c"/>
<rect x="341" y="270" width="3" height="1" fill="#0c0c0c"/>
<rect x="348" y="262" width="1" height="8" fill="#0c0c0c"/>
<rect x="347" y="268" width="3" height="2" fill="#0c0c0c"/>
<rect x="353" y="264" width="1" height="10" fill="#0c0c0c"/>
<rect x="352" y="266" width="3" height="8" fill="#0c0c0c"/>
<rect x="353" y="267" width="1" height="6" fill="#962a44"/>
<rect x="359" y="277" width="1" height="15" fill="#0c0c0c"/>
<rect x="358" y="277" width="3" height="8" fill="#0c0c0c"/>
<rect x="359" y="278" width="1" height="6" fill="#962a44"/>
<rect x="364" y="275" width="1" height="13" fill="#0c0c0c"/>
<rect x="363" y="275" width="3" height="8" fill="#0c0c0c"/>
<rect x="364" y="276" width="1" height="6" fill="#2a6445"/>
<rect x="370" y="276" width="1" height="9" fill="#0c0c0c"/>
<rect x="369" y="277" width="3" height="8" fill="#0c0c0c"/>
<rect x="370" y="278" width="1" height="6" fill="#962a44"/>
<rect x="375" y="271" width="1" height="14" fill="#0c0c0c"/>
<rect x="374" y="279" width="3" height="6" fill="#0c0c0c"/>
<rect x="375" y="280" width="1" height="4" fill="#2a6445"/>
<rect x="380" y="271" width="1" height="8" fill="#0c0c0c"/>
<rect x="379" y="278" width="3" height="1" fill="#0c0c0c"/>
<rect x="386" y="266" width="1" height="11" fill="#0c0c0c"/>
<rect x="385" y="271" width="3" height="6" fill="#0c0c0c"/>
<rect x="386" y="272" width="1" height="4" fill="#2a6445"/>
<rect x="391" y="268" width="1" height="10" fill="#0c0c0c"/>
<rect x="390" y="270" width="3" height="4" fill="#0c0c0c"/>
<rect x="391" y="271" width="1" height="2" fill="#962a44"/>
<rect x="397" y="266" width="1" height="10" fill="#0c0c0c"/>
<rect x="396" y="273" width="3" height="1" fill="#0c0c0c"/>
<rect x="402" y="271" width="1" height="7" fill="#0c0c0c"/>
<rect x="401" y="274" width="3" height="1" fill="#0c0c0c"/>
<rect x="408" y="271" width="1" height="7" fill="#0c0c0c"/>
<rect x="407" y="274" width="3" height="2" fill="#0c0c0c"/>
<rect x="413" y="272" width="1" height="6" fill="#0c0c0c"/>
<rect x="412" y="275" width="3" height="1" fill="#0c0c0c"/>
<rect x="419" y="275" width="1" height="14" fill="#0c0c0c"/>
<rect x="418" y="276" width="3" height="12" fill="#0c0c0c"/>
<rect x="419" y="277" width="1" height="10" fill="#962a44"/>
<rect x="424" y="282" width="1" height="9" fill="#0c0c0c"/>
<rect x="423" y="286" width="3" height="5" fill="#0c0c0c"/>
<rect x="424" y="287" width="1" height="3" fill="#962a44"/>
<rect x="430" y="283" width="1" height="11" fill="#0c0c0c"/>
<rect x="429" y="285" width="3" height="7" fill="#0c0c0c"/>
<rect x="430" y="286" width="1" height="5" fill="#2a6445"/>
<rect x="435" y="284" width="1" height="3" fill="#0c0c0c"/>
<rect x="434" y="285" width="3" height="2" fill="#0c0c0c"/>
<rect x="441" y="282" width="1" height="8" fill="#0c0c0c"/>
<rect x="440" y="285" width="3" height="1" fill="#0c0c0c"/>
<rect x="446" y="279" width="1" height="5" fill="#0c0c0c"/>
<rect x="445" y="282" width="3" height="2" fill="#0c0c0c"/>
<rect x="452" y="281" width="1" height="17" fill="#0c0c0c"/>
<rect x="451" y="281" width="3" height="15" fill="#0c0c0c"/>
<rect x="452" y="282" width="1" height="13" fill="#962a44"/>
<rect x="457" y="290" width="1" height="18" fill="#0c0c0c"/>
<rect x="456" y="296" width="3" height="2" fill="#0c0c0c"/>
<rect x="463" y="291" width="1" height="5" fill="#0c0c0c"/>
<rect x="462" y="291" width="3" height="5" fill="#0c0c0c"/>
<rect x="463" y="292" width="1" height="3" fill="#2a6445"/>
<rect x="468" y="286" width="1" height="9" fill="#0c0c0c"/>
<rect x="467" y="290" width="3" height="1" fill="#0c0c0c"/>
<rect x="473" y="290" width="1" height="5" fill="#0c0c0c"/>
<rect x="472" y="291" width="3" height="2" fill="#0c0c0c"/>
<rect x="479" y="288" width="1" height="7" fill="#0c0c0c"/>
<rect x="478" y="291" width="3" height="1" fill="#0c0c0c"/>
<rect x="484" y="288" width="1" height="7" fill="#0c0c0c"/>
<rect x="483" y="290" width="3" height="4" fill="#0c0c0c"/>
<rect x="484" y="291" width="1" height="2" fill="#962a44"/>
<rect x="490" y="293" width="1" height="9" fill="#0c0c0c"/>
<rect x="489" y="294" width="3" height="1" fill="#0c0c0c"/>
<rect x="495" y="293" width="1" height="7" fill="#0c0c0c"/>
<rect x="494" y="296" width="3" height="3" fill="#0c0c0c"/>
<rect x="495" y="297" width="1" height="1" fill="#962a44"/>
<rect x="501" y="286" width="1" height="15" fill="#0c0c0c"/>
<rect x="500" y="287" width="3" height="8" fill="#0c0c0c"/>
<rect x="501" y="288" width="1" height="6" fill="#2a6445"/>
<rect x="506" y="285" width="1" height="6" fill="#0c0c0c"/>
<rect x="505" y="286" width="3" height="1" fill="#0c0c0c"/>
<rect x="512" y="280" width="1" height="6" fill="#0c0c0c"/>
<rect x="511" y="282" width="3" height="4" fill="#0c0c0c"/>
<rect x="512" y="283" width="1" height="2" fill="#2a6445"/>
<rect x="517" y="277" width="1" height="6" fill="#0c0c0c"/>
<rect x="516" y="278" width="3" height="4" fill="#0c0c0c"/>
<rect x="517" y="279" width="1" height="2" fill="#2a6445"/>
<rect x="523" y="277" width="1" height="5" fill="#0c0c0c"/>
<rect x="522" y="278" width="3" height="1" fill="#0c0c0c"/>
<rect x="528" y="270" width="1" height="8" fill="#0c0c0c"/>
<rect x="527" y="273" width="3" height="5" fill="#0c0c0c"/>
<rect x="528" y="274" width="1" height="3" fill="#2a6445"/>
<rect x="534" y="269" width="1" height="5" fill="#0c0c0c"/>
<rect x="533" y="271" width="3" height="3" fill="#0c0c0c"/>
<rect x="534" y="272" width="1" height="1" fill="#2a6445"/>
<rect x="539" y="268" width="1" height="5" fill="#0c0c0c"/>
<rect x="538" y="272" width="3" height="1" fill="#0c0c0c"/>
<rect x="545" y="265" width="1" height="6" fill="#0c0c0c"/>
<rect x="544" y="266" width="3" height="4" fill="#0c0c0c"/>
<rect x="545" y="267" width="1" height="2" fill="#2a6445"/>
<rect x="550" y="262" width="1" height="5" fill="#0c0c0c"/>
<rect x="549" y="262" width="3" height="5" fill="#0c0c0c"/>
<rect x="550" y="263" width="1" height="3" fill="#2a6445"/>
<rect x="556" y="251" width="1" height="11" fill="#0c0c0c"/>
<rect x="555" y="252" width="3" height="10" fill="#0c0c0c"/>
<rect x="556" y="253" width="1" height="8" fill="#2a6445"/>
<rect x="561" y="243" width="1" height="12" fill="#0c0c0c"/>
<rect x="560" y="246" width="3" height="6" fill="#0c0c0c"/>
<rect x="561" y="247" width="1" height="4" fill="#2a6445"/>
<rect x="566" y="243" width="1" height="11" fill="#0c0c0c"/>
<rect x="565" y="244" width="3" height="10" fill="#0c0c0c"/>
<rect x="566" y="245" width="1" height="8" fill="#962a44"/>
<rect x="572" y="244" width="1" height="12" fill="#0c0c0c"/>
<rect x="571" y="245" width="3" height="7" fill="#0c0c0c"/>
<rect x="572" y="246" width="1" height="5" fill="#2a6445"/>
<rect x="577" y="246" width="1" height="5" fill="#0c0c0c"/>
<rect x="576" y="246" width="3" height="2" fill="#0c0c0c"/>
<rect x="583" y="241" width="1" height="8" fill="#0c0c0c"/>
<rect x="582" y="243" width="3" height="5" fill="#0c0c0c"/>
<rect x="583" y="244" width="1" height="3" fill="#2a6445"/>
<rect x="588" y="242" width="1" height="4" fill="#0c0c0c"/>
<rect x="587" y="242" width="3" height="4" fill="#0c0c0c"/>
<rect x="588" y="243" width="1" height="2" fill="#962a44"/>
<rect x="594" y="237" width="1" height="9" fill="#0c0c0c"/>
<rect x="593" y="239" width="3" height="7" fill="#0c0c0c"/>
<rect x="594" y="240" width="1" height="5" fill="#2a6445"/>
<rect x="599" y="235" width="1" height="13" fill="#0c0c0c"/>
<rect x="598" y="239" width="3" height="5" fill="#0c0c0c"/>
<rect x="599" y="240" width="1" height="3" fill="#962a44"/>
<rect x="605" y="235" width="1" height="8" fill="#0c0c0c"/>
<rect x="604" y="237" width="3" height="6" fill="#0c0c0c"/>
<rect x="605" y="238" width="1" height="4" fill="#2a6445"/>
<rect x="610" y="237" width="1" height="6" fill="#0c0c0c"/>
<rect x="609" y="237" width="3" height="6" fill="#0c0c0c"/>
<rect x="610" y="238" width="1" height="4" fill="#962a44"/>
<rect x="616" y="229" width="1" height="14" fill="#0c0c0c"/>
<rect x="615" y="234" width="3" height="9" fill="#0c0c0c"/>
<rect x="616" y="235" width="1" height="7" fill="#2a6445"/>
<rect x="621" y="228" width="1" height="8" fill="#0c0c0c"/>
<rect x="620" y="229" width="3" height="3" fill="#0c0c0c"/>
<rect x="621" y="230" width="1" height="1" fill="#2a6445"/>
<rect x="627" y="221" width="1" height="8" fill="#0c0c0c"/>
<rect x="626" y="223" width="3" height="5" fill="#0c0c0c"/>
<rect x="627" y="224" width="1" height="3" fill="#2a6445"/>
<rect x="632" y="218" width="1" height="17" fill="#0c0c0c"/>
<rect x="631" y="221" width="3" height="12" fill="#0c0c0c"/>
<rect x="632" y="222" width="1" height="10" fill="#962a44"/>
<rect x="638" y="221" width="1" height="13" fill="#0c0c0c"/>
<rect x="637" y="221" width="3" height="11" fill="#0c0c0c"/>
<rect x="638" y="222" width="1" height="9" fill="#962a44"/>
<rect x="643" y="228" width="1" height="6" fill="#0c0c0c"/>
<rect x="642" y="228" width="3" height="4" fill="#0c0c0c"/>
<rect x="643" y="229" width="1" height="2" fill="#2a6445"/>
<rect x="649" y="225" width="1" height="6" fill="#0c0c0c"/>
<rect x="648" y="227" width="3" height="3" fill="#0c0c0c"/>
<rect x="649" y="228" width="1" height="1" fill="#2a6445"/>
<rect x="654" y="225" width="1" height="6" fill="#0c0c0c"/>
<rect x="653" y="230" width="3" height="1" fill="#0c0c0c"/>
<rect x="659" y="228" width="1" height="6" fill="#0c0c0c"/>
<rect x="658" y="230" width="3" height="4" fill="#0c0c0c"/>
<rect x="659" y="231" width="1" height="2" fill="#962a44"/>
<rect x="665" y="231" width="1" height="12" fill="#0c0c0c"/>
<rect x="664" y="233" width="3" height="3" fill="#0c0c0c"/>
<rect x="665" y="234" width="1" height="1" fill="#962a44"/>
<rect x="670" y="230" width="1" height="8" fill="#0c0c0c"/>
<rect x="669" y="231" width="3" height="4" fill="#0c0c0c"/>
<rect x="670" y="232" width="1" height="2" fill="#2a6445"/>
<rect x="676" y="225" width="1" height="5" fill="#0c0c0c"/>
<rect x="675" y="227" width="3" height="3" fill="#0c0c0c"/>
<rect x="676" y="228" width="1" height="1" fill="#2a6445"/>
<rect x="681" y="219" width="1" height="9" fill="#0c0c0c"/>
<rect x="680" y="219" width="3" height="9" fill="#0c0c0c"/>
<rect x="681" y="220" width="1" height="7" fill="#2a6445"/>
<rect x="687" y="219" width="1" height="11" fill="#0c0c0c"/>
<rect x="686" y="219" width="3" height="8" fill="#0c0c0c"/>
<rect x="687" y="220" width="1" height="6" fill="#962a44"/>
<rect x="692" y="215" width="1" height="11" fill="#0c0c0c"/>
<rect x="691" y="217" width="3" height="9" fill="#0c0c0c"/>
<rect x="692" y="218" width="1" height="7" fill="#2a6445"/>
<rect x="698" y="202" width="1" height="12" fill="#0c0c0c"/>
<rect x="697" y="206" width="3" height="8" fill="#0c0c0c"/>
<rect x="698" y="207" width="1" height="6" fill="#2a6445"/>
<rect x="703" y="194" width="1" height="11" fill="#0c0c0c"/>
<rect x="702" y="195" width="3" height="10" fill="#0c0c0c"/>
<rect x="703" y="196" width="1" height="8" fill="#2a6445"/>
<rect x="709" y="188" width="1" height="12" fill="#0c0c0c"/>
<rect x="708" y="190" width="3" height="4" fill="#0c0c0c"/>
<rect x="709" y="191" width="1" height="2" fill="#2a6445"/>
<rect x="714" y="180" width="1" height="7" fill="#0c0c0c"/>
<rect x="713" y="181" width="3" height="6" fill="#0c0c0c"/>
<rect x="714" y="182" width="1" height="4" fill="#2a6445"/>
<rect x="720" y="177" width="1" height="8" fill="#0c0c0c"/>
<rect x="719" y="180" width="3" height="1" fill="#0c0c0c"/>
<rect x="725" y="178" width="1" height="4" fill="#0c0c0c"/>
<rect x="724" y="179" width="3" height="3" fill="#0c0c0c"/>
<rect x="725" y="180" width="1" height="1" fill="#962a44"/>
<rect x="731" y="170" width="1" height="15" fill="#0c0c0c"/>
<rect x="730" y="173" width="3" height="8" fill="#0c0c0c"/>
<rect x="731" y="174" width="1" height="6" fill="#2a6445"/>
<rect x="736" y="171" width="1" height="10" fill="#0c0c0c"/>
<rect x="735" y="171" width="3" height="6" fill="#0c0c0c"/>
<rect x="736" y="172" width="1" height="4" fill="#962a44"/>
<rect x="742" y="173" width="1" height="10" fill="#0c0c0c"/>
<rect x="741" y="176" width="3" height="6" fill="#0c0c0c"/>
<rect x="742" y="177" width="1" height="4" fill="#962a44"/>
<rect x="747" y="178" width="1" height="9" fill="#0c0c0c"/>
<rect x="746" y="178" width="3" height="6" fill="#0c0c0c"/>
<rect x="747" y="179" width="1" height="4" fill="#962a44"/>
<rect x="752" y="175" width="1" height="17" fill="#0c0c0c"/>
<rect x="751" y="177" width="3" height="7" fill="#0c0c0c"/>
<rect x="752" y="178" width="1" height="5" fill="#2a6445"/>
<rect x="758" y="161" width="1" height="17" fill="#0c0c0c"/>
<rect x="757" y="162" width="3" height="14" fill="#0c0c0c"/>
<rect x="758" y="163" width="1" height="12" fill="#2a6445"/>
<rect x="763" y="159" width="1" height="8" fill="#0c0c0c"/>
<rect x="762" y="161" width="3" height="1" fill="#0c0c0c"/>
<rect x="769" y="152" width="1" height="10" fill="#0c0c0c"/>
<rect x="768" y="155" width="3" height="6" fill="#0c0c0c"/>
<rect x="769" y="156" width="1" height="4" fill="#2a6445"/>
<rect x="774" y="154" width="1" height="32" fill="#0c0c0c"/>
<rect x="773" y="154" width="3" height="22" fill="#0c0c0c"/>
<rect x="774" y="155" width="1" height="20" fill="#962a44"/>
<rect x="780" y="166" width="1" height="16" fill="#0c0c0c"/>
<rect x="779" y="168" width="3" height="8" fill="#0c0c0c"/>
<rect x="780" y="169" width="1" height="6" fill="#2a6445"/>
<rect x="785" y="163" width="1" height="6" fill="#0c0c0c"/>
<rect x="784" y="164" width="3" height="5" fill="#0c0c0c"/>
<rect x="785" y="165" width="1" height="3" fill="#2a6445"/>
<rect x="791" y="145" width="1" height="18" fill="#0c0c0c"/>
<rect x="790" y="147" width="3" height="16" fill="#0c0c0c"/>
<rect x="791" y="148" width="1" height="14" fill="#2a6445"/>
<rect x="796" y="138" width="1" height="11" fill="#0c0c0c"/>
<rect x="795" y="140" width="3" height="7" fill="#0c0c0c"/>
<rect x="796" y="141" width="1" height="5" fill="#2a6445"/>
<rect x="802" y="137" width="1" height="9" fill="#0c0c0c"/>
<rect x="801" y="141" width="3" height="3" fill="#0c0c0c"/>
<rect x="802" y="142" width="1" height="1" fill="#2a6445"/>
<rect x="807" y="135" width="1" height="7" fill="#0c0c0c"/>
<rect x="806" y="137" width="3" height="3" fill="#0c0c0c"/>
<rect x="807" y="138" width="1" height="1" fill="#2a6445"/>
<rect x="813" y="137" width="1" height="5" fill="#0c0c0c"/>
<rect x="812" y="137" width="3" height="3" fill="#0c0c0c"/>
<rect x="813" y="138" width="1" height="1" fill="#962a44"/>
<rect x="818" y="137" width="1" height="11" fill="#0c0c0c"/>
<rect x="817" y="139" width="3" height="7" fill="#0c0c0c"/>
<rect x="818" y="140" width="1" height="5" fill="#962a44"/>
<rect x="824" y="122" width="1" height="27" fill="#0c0c0c"/>
<rect x="823" y="123" width="3" height="22" fill="#0c0c0c"/>
<rect x="824" y="124" width="1" height="20" fill="#2a6445"/>
<rect x="829" y="99" width="1" height="21" fill="#0c0c0c"/>
<rect x="828" y="100" width="3" height="9" fill="#0c0c0c"/>
<rect x="829" y="101" width="1" height="7" fill="#2a6445"/>
<rect x="835" y="96" width="1" height="11" fill="#0c0c0c"/>
<rect x="834" y="98" width="3" height="4" fill="#0c0c0c"/>
<rect x="835" y="99" width="1" height="2" fill="#962a44"/>
<rect x="840" y="87" width="1" height="55" fill="#0c0c0c"/>
<rect x="839" y="87" width="3" height="21" fill="#0c0c0c"/>
<rect x="840" y="88" width="1" height="19" fill="#962a44"/>
<rect x="845" y="92" width="1" height="18" fill="#0c0c0c"/>
<rect x="844" y="94" width="3" height="12" fill="#0c0c0c"/>
<rect x="845" y="95" width="1" height="10" fill="#2a6445"/>
<rect x="851" y="88" width="1" height="9" fill="#0c0c0c"/>
<rect x="850" y="92" width="3" height="4" fill="#0c0c0c"/>
<rect x="851" y="93" width="1" height="2" fill="#962a44"/>
<rect x="856" y="91" width="1" height="9" fill="#0c0c0c"/>
<rect x="855" y="96" width="3" height="1" fill="#0c0c0c"/>
<rect x="862" y="85" width="1" height="12" fill="#0c0c0c"/>
<rect x="861" y="86" width="3" height="8" fill="#0c0c0c"/>
<rect x="862" y="87" width="1" height="6" fill="#2a6445"/>
<rect x="867" y="78" width="1" height="8" fill="#0c0c0c"/>
<rect x="866" y="81" width="3" height="4" fill="#0c0c0c"/>
<rect x="867" y="82" width="1" height="2" fill="#2a6445"/>
<rect x="873" y="80" width="1" height="16" fill="#0c0c0c"/>
<rect x="872" y="80" width="3" height="16" fill="#0c0c0c"/>
<rect x="873" y="81" width="1" height="14" fill="#962a44"/>
<rect x="878" y="90" width="1" height="20" fill="#0c0c0c"/>
<rect x="877" y="93" width="3" height="3" fill="#0c0c0c"/>
<rect x="878" y="94" width="1" height="1" fill="#2a6445"/>
<rect x="884" y="85" width="1" height="13" fill="#0c0c0c"/>
<rect x="883" y="92" width="3" height="6" fill="#0c0c0c"/>
<rect x="884" y="93" width="1" height="4" fill="#962a44"/>
<rect x="889" y="96" width="1" height="11" fill="#0c0c0c"/>
<rect x="888" y="98" width="3" height="8" fill="#0c0c0c"/>
<rect x="889" y="99" width="1" height="6" fill="#2a6445"/>
<rect x="895" y="96" width="1" height="8" fill="#0c0c0c"/>
<rect x="894" y="97" width="3" height="3" fill="#0c0c0c"/>
<rect x="895" y="98" width="1" height="1" fill="#2a6445"/>
<rect x="900" y="93" width="1" height="7" fill="#0c0c0c"/>
<rect x="899" y="95" width="3" height="1" fill="#0c0c0c"/>
<rect x="906" y="92" width="1" height="10" fill="#0c0c0c"/>
<rect x="905" y="94" width="3" height="5" fill="#0c0c0c"/>
<rect x="906" y="95" width="1" height="3" fill="#962a44"/>
<rect x="911" y="98" width="1" height="10" fill="#0c0c0c"/>
<rect x="910" y="98" width="3" height="10" fill="#0c0c0c"/>
<rect x="911" y="99" width="1" height="8" fill="#962a44"/>
<rect x="917" y="102" width="1" height="10" fill="#0c0c0c"/>
<rect x="916" y="104" width="3" height="6" fill="#0c0c0c"/>
<rect x="917" y="105" width="1" height="4" fill="#2a6445"/>
<rect x="922" y="104" width="1" height="14" fill="#0c0c0c"/>
<rect x="921" y="104" width="3" height="7" fill="#0c0c0c"/>
<rect x="922" y="105" width="1" height="5" fill="#962a44"/>
<rect x="927" y="101" width="1" height="9" fill="#0c0c0c"/>
<rect x="926" y="102" width="3" height="8" fill="#0c0c0c"/>
<rect x="927" y="103" width="1" height="6" fill="#2a6445"/>
<rect x="933" y="101" width="1" height="13" fill="#0c0c0c"/>
<rect x="932" y="102" width="3" height="9" fill="#0c0c0c"/>
<rect x="933" y="103" width="1" height="7" fill="#962a44"/>
<rect x="938" y="104" width="1" height="16" fill="#0c0c0c"/>
<rect x="937" y="106" width="3" height="6" fill="#0c0c0c"/>
<rect x="938" y="107" width="1" height="4" fill="#2a6445"/>
<rect x="944" y="103" width="1" height="7" fill="#0c0c0c"/>
<rect x="943" y="106" width="3" height="1" fill="#0c0c0c"/>
<rect x="949" y="105" width="1" height="19" fill="#0c0c0c"/>
<rect x="948" y="106" width="3" height="8" fill="#0c0c0c"/>
<rect x="949" y="107" width="1" height="6" fill="#962a44"/>
<rect x="955" y="101" width="1" height="16" fill="#0c0c0c"/>
<rect x="954" y="105" width="3" height="8" fill="#0c0c0c"/>
<rect x="955" y="106" width="1" height="6" fill="#2a6445"/>
<rect x="960" y="96" width="1" height="15" fill="#0c0c0c"/>
<rect x="959" y="100" width="3" height="6" fill="#0c0c0c"/>
<rect x="960" y="101" width="1" height="4" fill="#2a6445"/>
<rect x="966" y="96" width="1" height="16" fill="#0c0c0c"/>
<rect x="965" y="100" width="3" height="10" fill="#0c0c0c"/>
<rect x="966" y="101" width="1" height="8" fill="#962a44"/>
<rect x="971" y="106" width="1" height="10" fill="#0c0c0c"/>
<rect x="970" y="107" width="3" height="3" fill="#0c0c0c"/>
<rect x="971" y="108" width="1" height="1" fill="#962a44"/>
<rect x="977" y="92" width="1" height="13" fill="#0c0c0c"/>
<rect x="976" y="94" width="3" height="11" fill="#0c0c0c"/>
<rect x="977" y="95" width="1" height="9" fill="#2a6445"/>
<rect x="982" y="87" width="1" height="10" fill="#0c0c0c"/>
<rect x="981" y="91" width="3" height="3" fill="#0c0c0c"/>
<rect x="982" y="92" width="1" height="1" fill="#2a6445"/>
<rect x="988" y="88" width="1" height="6" fill="#0c0c0c"/>
<rect x="987" y="90" width="3" height="2" fill="#0c0c0c"/>
<rect x="993" y="88" width="1" height="15" fill="#0c0c0c"/>
<rect x="992" y="90" width="3" height="13" fill="#0c0c0c"/>
<rect x="993" y="91" width="1" height="11" fill="#962a44"/>
<rect x="999" y="100" width="1" height="5" fill="#0c0c0c"/>
<rect x="998" y="101" width="3" height="3" fill="#0c0c0c"/>
<rect x="999" y="102" width="1" height="1" fill="#962a44"/>
<rect x="1004" y="100" width="1" height="8" fill="#0c0c0c"/>
<rect x="1003" y="103" width="3" height="1" fill="#0c0c0c"/>
<rect x="1010" y="103" width="1" height="13" fill="#0c0c0c"/>
<rect x="1009" y="103" width="3" height="13" fill="#0c0c0c"/>
<rect x="1010" y="104" width="1" height="11" fill="#962a44"/>
<rect x="1015" y="107" width="1" height="16" fill="#0c0c0c"/>
<rect x="1014" y="108" width="3" height="11" fill="#0c0c0c"/>
<rect x="1015" y="109" width="1" height="9" fill="#2a6445"/>
<rect x="1020" y="105" width="1" height="12" fill="#0c0c0c"/>
<rect x="1019" y="108" width="3" height="9" fill="#0c0c0c"/>
<rect x="1020" y="109" width="1" height="7" fill="#962a44"/>
<rect x="1026" y="99" width="1" height="29" fill="#0c0c0c"/>
<rect x="1025" y="109" width="3" height="10" fill="#0c0c0c"/>
<rect x="1026" y="110" width="1" height="8" fill="#2a6445"/>
<rect x="1031" y="103" width="1" height="16" fill="#0c0c0c"/>
<rect x="1030" y="111" width="3" height="1" fill="#0c0c0c"/>
<rect x="1037" y="108" width="1" height="21" fill="#0c0c0c"/>
<rect x="1036" y="109" width="3" height="19" fill="#0c0c0c"/>
<rect x="1037" y="110" width="1" height="17" fill="#962a44"/>
<rect x="1042" y="120" width="1" height="15" fill="#0c0c0c"/>
<rect x="1041" y="125" width="3" height="5" fill="#0c0c0c"/>
<rect x="1042" y="126" width="1" height="3" fill="#2a6445"/>
<rect x="1048" y="123" width="1" height="9" fill="#0c0c0c"/>
<rect x="1047" y="127" width="3" height="5" fill="#0c0c0c"/>
<rect x="1048" y="128" width="1" height="3" fill="#962a44"/>
<rect x="1053" y="109" width="1" height="22" fill="#0c0c0c"/>
<rect x="1052" y="111" width="3" height="20" fill="#0c0c0c"/>
<rect x="1053" y="112" width="1" height="18" fill="#2a6445"/>
<rect x="1059" y="105" width="1" height="9" fill="#0c0c0c"/>
<rect x="1058" y="108" width="3" height="3" fill="#0c0c0c"/>
<rect x="1059" y="109" width="1" height="1" fill="#2a6445"/>
<rect x="1064" y="97" width="1" height="13" fill="#0c0c0c"/>
<rect x="1063" y="100" width="3" height="9" fill="#0c0c0c"/>
<rect x="1064" y="101" width="1" height="7" fill="#2a6445"/>
<rect x="1070" y="94" width="1" height="6" fill="#0c0c0c"/>
<rect x="1069" y="97" width="3" height="3" fill="#0c0c0c"/>
<rect x="1070" y="98" width="1" height="1" fill="#2a6445"/>
<rect x="1075" y="94" width="1" height="18" fill="#0c0c0c"/>
<rect x="1074" y="96" width="3" height="14" fill="#0c0c0c"/>
<rect x="1075" y="97" width="1" height="12" fill="#962a44"/>
<rect x="1081" y="104" width="1" height="20" fill="#0c0c0c"/>
<rect x="1080" y="106" width="3" height="18" fill="#0c0c0c"/>
<rect x="1081" y="107" width="1" height="16" fill="#2a6445"/>
<rect x="1086" y="99" width="1" height="4" fill="#0c0c0c"/>
<rect x="1085" y="100" width="3" height="3" fill="#0c0c0c"/>
<rect x="1086" y="101" width="1" height="1" fill="#2a6445"/>
<rect x="1092" y="92" width="1" height="8" fill="#0c0c0c"/>
<rect x="1091" y="99" width="3" height="1" fill="#0c0c0c"/>
<rect x="1097" y="86" width="1" height="14" fill="#0c0c0c"/>
<rect x="1096" y="91" width="3" height="9" fill="#0c0c0c"/>
<rect x="1097" y="92" width="1" height="7" fill="#2a6445"/>
<rect x="1103" y="86" width="1" height="9" fill="#0c0c0c"/>
<rect x="1102" y="89" width="3" height="2" fill="#0c0c0c"/>
<rect x="1108" y="62" width="1" height="27" fill="#0c0c0c"/>
<rect x="1107" y="64" width="3" height="20" fill="#0c0c0c"/>
<rect x="1108" y="65" width="1" height="18" fill="#2a6445"/>
<rect x="1113" y="54" width="1" height="14" fill="#0c0c0c"/>
<rect x="1112" y="58" width="3" height="4" fill="#0c0c0c"/>
<rect x="1113" y="59" width="1" height="2" fill="#2a6445"/>
<rect x="1119" y="52" width="1" height="7" fill="#0c0c0c"/>
<rect x="1118" y="56" width="3" height="1" fill="#0c0c0c"/>
<rect x="1124" y="51" width="1" height="6" fill="#0c0c0c"/>
<rect x="1123" y="54" width="3" height="3" fill="#0c0c0c"/>
<rect x="1124" y="55" width="1" height="1" fill="#2a6445"/>
<rect x="1130" y="49" width="1" height="9" fill="#0c0c0c"/>
<rect x="1129" y="52" width="3" height="1" fill="#0c0c0c"/>
<rect x="1135" y="46" width="1" height="6" fill="#0c0c0c"/>
<rect x="1134" y="46" width="3" height="6" fill="#0c0c0c"/>
<rect x="1135" y="47" width="1" height="4" fill="#2a6445"/>
<rect x="1141" y="39" width="1" height="9" fill="#0c0c0c"/>
<rect x="1140" y="44" width="3" height="3" fill="#0c0c0c"/>
<rect x="1141" y="45" width="1" height="1" fill="#2a6445"/>
<rect x="1146" y="35" width="1" height="9" fill="#0c0c0c"/>
<rect x="1145" y="39" width="3" height="5" fill="#0c0c0c"/>
<rect x="1146" y="40" width="1" height="3" fill="#2a6445"/>
<rect x="1152" y="39" width="1" height="9" fill="#0c0c0c"/>
<rect x="1151" y="39" width="3" height="8" fill="#0c0c0c"/>
<rect x="1152" y="40" width="1" height="6" fill="#962a44"/>
<rect x="1157" y="44" width="1" height="9" fill="#0c0c0c"/>
<rect x="1156" y="47" width="3" height="6" fill="#0c0c0c"/>
<rect x="1157" y="48" width="1" height="4" fill="#962a44"/>
<rect x="1163" y="48" width="1" height="5" fill="#0c0c0c"/>
<rect x="1162" y="52" width="3" height="1" fill="#0c0c0c"/>
<rect x="1168" y="50" width="1" height="9" fill="#0c0c0c"/>
<rect x="1167" y="52" width="3" height="7" fill="#0c0c0c"/>
<rect x="1168" y="53" width="1" height="5" fill="#962a44"/>
<rect x="1174" y="52" width="1" height="8" fill="#0c0c0c"/>
<rect x="1173" y="55" width="3" height="5" fill="#0c0c0c"/>
<rect x="1174" y="56" width="1" height="3" fill="#2a6445"/>
<rect x="1179" y="54" width="1" height="4" fill="#0c0c0c"/>
<rect x="1178" y="55" width="3" height="2" fill="#0c0c0c"/>
<rect x="1185" y="54" width="1" height="8" fill="#0c0c0c"/>
<rect x="1184" y="54" width="3" height="7" fill="#0c0c0c"/>
<rect x="1185" y="55" width="1" height="5" fill="#962a44"/>
<rect x="1190" y="58" width="1" height="8" fill="#0c0c0c"/>
<rect x="1189" y="59" width="3" height="5" fill="#0c0c0c"/>
<rect x="1190" y="60" width="1" height="3" fill="#962a44"/>
<rect x="1196" y="57" width="1" height="5" fill="#0c0c0c"/>
<rect x="1195" y="59" width="3" height="3" fill="#0c0c0c"/>
<rect x="1196" y="60" width="1" height="1" fill="#2a6445"/>
<rect x="1201" y="49" width="1" height="13" fill="#0c0c0c"/>
<rect x="1200" y="50" width="3" height="12" fill="#0c0c0c"/>
<rect x="1201" y="51" width="1" height="10" fill="#2a6445"/>
<rect x="1206" y="43" width="1" height="7" fill="#0c0c0c"/>
<rect x="1205" y="45" width="3" height="5" fill="#0c0c0c"/>
<rect x="1206" y="46" width="1" height="3" fill="#2a6445"/>
<rect x="1212" y="45" width="1" height="7" fill="#0c0c0c"/>
<rect x="1211" y="45" width="3" height="7" fill="#0c0c0c"/>
<rect x="1212" y="46" width="1" height="5" fill="#962a44"/>
<rect x="1217" y="44" width="1" height="6" fill="#0c0c0c"/>
<rect x="1216" y="44" width="3" height="6" fill="#0c0c0c"/>
<rect x="1217" y="45" width="1" height="4" fill="#2a6445"/>
<rect x="1223" y="44" width="1" height="1" fill="#0c0c0c"/>
<rect x="1222" y="44" width="3" height="1" fill="#0c0c0c"/>
</g>
<path d="M10.5 489.1 L14.5 490.3 L20.0 487.9 L25.4 486.3 L30.9 506.3 L36.4 508.2 L41.8 515.8 L47.3 500.4 L52.8 487.5 L58.3 490.3 L63.7 482.3 L69.2 482.3 L74.7 491.7 L80.1 494.5 L85.6 485.1 L91.1 504.4 L96.5 499.7 L102.0 509.2 L107.5 489.3 L113.0 514.6 L118.4 529.9 L123.9 521.7 L129.4 522.8 L134.8 529.2 L140.3 526.4 L145.8 519.3 L151.2 522.1 L156.7 509.4 L162.2 529.9 L167.7 530.4 L173.1 534.2 L178.6 538.6 L184.1 539.3 L189.5 538.9 L195.0 517.4 L200.5 517.4 L205.9 528.7 L211.4 531.8 L216.9 516.9 L222.4 492.2 L227.8 485.6 L233.3 482.7 L238.8 507.5 L244.2 521.7 L249.7 537.5 L255.2 520.5 L260.6 525.7 L266.1 514.6 L271.6 511.0 L277.1 528.0 L282.5 529.4 L288.0 535.1 L293.5 528.0 L298.9 516.9 L304.4 499.7 L309.9 493.3 L315.3 492.2 L320.8 481.6 L326.3 491.0 L331.8 478.5 L337.2 469.8 L342.7 468.1 L348.2 466.7 L353.6 489.8 L359.1 509.9 L364.6 500.4 L370.1 518.8 L375.5 513.9 L381.0 508.7 L386.5 502.3 L391.9 508.2 L397.4 508.2 L402.9 509.9 L408.3 513.4 L413.8 515.3 L419.3 540.5 L424.8 551.1 L430.2 539.3 L435.7 542.9 L441.2 539.3 L446.6 533.4 L452.1 559.4 L457.6 560.6 L463.0 549.2 L468.5 548.3 L474.0 552.3 L479.4 550.7 L484.9 554.7 L490.4 560.1 L495.9 565.3 L501.3 537.7 L506.8 532.3 L512.3 524.7 L517.7 518.1 L523.2 516.2 L528.7 506.3 L534.1 503.5 L539.6 505.1 L545.1 494.1 L550.6 487.0 L556.0 471.4 L561.5 464.3 L567.0 491.0 L572.4 481.6 L577.9 489.3 L583.4 483.9 L588.9 494.5 L594.3 484.6 L599.8 495.7 L605.3 487.5 L610.7 505.1 L616.2 494.5 L621.7 487.0 L627.1 479.2 L632.6 506.3 L638.1 505.6 L643.5 501.1 L649.0 500.0 L654.5 506.3 L660.0 518.1 L665.4 525.7 L670.9 515.8 L676.4 507.5 L681.8 495.2 L687.3 515.8 L692.8 499.7 L698.2 485.1 L703.7 475.2 L709.2 470.5 L714.7 462.7 L720.1 461.5 L725.6 469.1 L731.1 461.5 L736.5 473.3 L742.0 488.6 L747.5 496.4 L752.9 487.5 L758.4 473.3 L763.9 472.1 L769.4 465.8 L774.8 520.0 L780.3 511.0 L785.8 506.8 L791.2 488.6 L796.7 482.7 L802.2 482.7 L807.6 479.7 L813.1 488.6 L818.6 501.1 L824.1 479.2 L829.5 463.4 L835.0 465.0 L840.5 483.4 L845.9 472.6 L851.4 478.0 L856.9 478.0 L862.3 470.9 L867.8 467.4 L873.3 500.0 L878.8 498.5 L884.2 506.3 L889.7 507.0 L895.2 505.8 L900.6 504.0 L906.1 514.6 L911.6 531.8 L917.0 526.8 L922.5 540.0 L928.0 526.8 L933.5 541.7 L938.9 535.1 L944.4 534.2 L949.9 548.1 L955.3 535.8 L960.8 526.8 L966.3 542.9 L971.8 542.9 L977.2 520.5 L982.7 516.5 L988.2 515.3 L993.6 540.0 L999.1 539.3 L1004.6 539.8 L1010.0 558.7 L1015.5 548.3 L1021.0 558.2 L1026.4 547.6 L1031.9 551.6 L1037.4 571.9 L1042.9 566.5 L1048.3 573.1 L1053.8 545.2 L1059.3 541.7 L1064.7 528.7 L1070.2 525.9 L1075.7 544.5 L1081.1 539.3 L1086.6 532.7 L1092.1 530.4 L1097.6 520.5 L1103.0 516.5 L1108.5 489.8 L1114.0 482.7 L1119.4 482.3 L1124.9 480.4 L1130.4 479.2 L1135.8 473.8 L1141.3 470.9 L1146.8 466.2 L1152.3 489.8 L1157.7 504.4 L1163.2 504.4 L1168.7 522.8 L1174.1 518.1 L1179.6 517.4 L1185.1 528.0 L1190.5 533.4 L1196.0 532.3 L1201.5 509.2 L1207.0 504.0 L1212.4 518.6 L1217.9 508.0 L1223.4 507.5 L1223.4 493.4 L10.5 493.4 Z" fill="url(#ob)" clip-path="url(#ob70)"/>
<line x1="10" y1="493.5" x2="1288" y2="493.5" stroke="#787b86" stroke-width="1" stroke-dasharray="5 6"/>
<line x1="10" y1="545.5" x2="1288" y2="545.5" stroke="#787b86" stroke-opacity="0.5" stroke-width="1" stroke-dasharray="5 6"/>
<line x1="10" y1="598.5" x2="1288" y2="598.5" stroke="#787b86" stroke-width="1" stroke-dasharray="5 6"/>
<path d="M9.9 508.7 L10.9 508.1 L12.3 507.3 L14.0 506.3 L15.8 505.3 L17.6 504.3 L19.3 503.5 L21.0 502.7 L22.8 501.9 L24.5 501.2 L26.3 500.5 L28.1 500.0 L30.0 499.7 L31.8 499.7 L33.6 499.9 L35.5 500.3 L37.3 500.7 L39.2 501.1 L41.0 501.1 L42.9 501.0 L44.7 500.7 L46.6 500.3 L48.4 499.8 L50.3 499.3 L52.1 498.8 L53.9 498.2 L55.6 497.5 L57.3 496.8 L59.1 496.2 L61.0 495.5 L63.2 495.0 L65.7 494.6 L68.6 494.2 L71.6 493.9 L74.6 493.6 L77.5 493.4 L80.0 493.3 L82.0 493.4 L83.9 493.5 L85.5 493.7 L87.1 494.0 L88.6 494.3 L90.3 494.5 L92.1 494.8 L94.0 495.2 L95.9 495.6 L97.7 496.0 L99.6 496.2 L101.4 496.4 L103.2 496.4 L105.0 496.2 L106.7 496.0 L108.5 495.8 L110.2 495.6 L112.0 495.7 L113.9 496.0 L115.7 496.4 L117.6 496.9 L119.4 497.5 L121.3 498.1 L123.1 498.8 L124.9 499.5 L126.7 500.3 L128.5 501.2 L130.3 502.2 L132.1 503.1 L134.0 504.0 L135.8 504.8 L137.7 505.8 L139.5 506.7 L141.4 507.5 L143.2 508.4 L145.0 509.2 L146.8 509.8 L148.6 510.4 L150.3 511.0 L152.1 511.5 L153.9 512.1 L155.7 512.7 L157.5 513.3 L159.4 514.0 L161.3 514.7 L163.2 515.4 L165.1 516.1 L167.0 516.9 L168.9 517.8 L170.8 518.7 L172.7 519.7 L174.6 520.6 L176.4 521.5 L178.1 522.4 L179.6 523.1 L181.1 523.9 L182.4 524.7 L183.7 525.3 L185.0 525.9 L186.3 526.4 L187.6 526.7 L188.7 526.9 L189.9 527.0 L191.1 527.0 L192.4 527.0 L193.9 527.1 L195.5 527.1 L197.4 527.2 L199.3 527.2 L201.3 527.2 L203.3 527.1 L205.2 527.1 L207.1 527.0 L209.0 527.0 L210.9 526.9 L212.8 526.8 L214.6 526.7 L216.5 526.4 L218.4 525.9 L220.2 525.4 L222.1 524.8 L223.9 524.1 L225.8 523.5 L227.6 522.8 L229.4 522.2 L231.2 521.6 L232.9 520.9 L234.7 520.3 L236.4 519.7 L238.2 519.3 L240.0 519.0 L241.8 518.8 L243.6 518.6 L245.4 518.5 L247.2 518.4 L249.1 518.1 L250.8 517.8 L252.6 517.4 L254.3 516.9 L256.1 516.5 L258.0 516.1 L260.1 515.8 L262.6 515.5 L265.3 515.4 L268.1 515.2 L270.9 515.2 L273.6 515.1 L276.1 515.0 L278.2 515.0 L280.2 515.0 L282.1 515.0 L283.8 515.0 L285.6 515.1 L287.4 515.3 L289.2 515.6 L291.1 515.9 L292.9 516.4 L294.7 516.8 L296.5 517.3 L298.3 517.6 L299.9 518.1 L301.5 518.6 L303.0 519.1 L304.7 519.4 L306.5 519.5 L308.6 519.3 L311.2 518.6 L314.1 517.6 L317.2 516.4 L320.3 515.0 L323.3 513.6 L325.8 512.2 L328.1 510.9 L330.0 509.5 L331.8 508.1 L333.5 506.7 L335.2 505.3 L336.9 504.0 L338.8 502.7 L340.6 501.4 L342.4 500.2 L344.2 499.0 L346.0 497.9 L347.8 496.9 L349.5 495.9 L351.3 495.0 L353.0 494.2 L354.7 493.4 L356.4 492.8 L358.2 492.2 L360.0 491.7 L361.8 491.2 L363.6 490.9 L365.5 490.6 L367.4 490.4 L369.2 490.3 L371.1 490.3 L373.0 490.4 L374.9 490.6 L376.8 490.9 L378.7 491.2 L380.6 491.5 L382.4 491.7 L384.2 492.0 L386.0 492.3 L387.8 492.6 L389.6 493.0 L391.4 493.3 L393.2 493.8 L395.0 494.2 L396.8 494.6 L398.6 495.1 L400.5 495.7 L402.3 496.4 L404.1 497.2 L405.9 498.2 L407.7 499.2 L409.5 500.3 L411.3 501.5 L413.1 502.8 L415.0 504.2 L416.8 505.8 L418.7 507.5 L420.5 509.1 L422.4 510.7 L424.2 512.2 L426.0 513.6 L427.7 514.8 L429.5 516.0 L431.2 517.2 L433.0 518.3 L434.8 519.3 L436.7 520.2 L438.6 521.0 L440.5 521.7 L442.4 522.4 L444.3 523.2 L446.1 524.0 L447.9 524.9 L449.7 525.8 L451.5 526.8 L453.2 527.8 L455.0 528.8 L456.7 529.9 L458.6 531.0 L460.4 532.2 L462.3 533.4 L464.1 534.7 L466.0 535.9 L467.8 537.0 L469.6 538.0 L471.5 539.1 L473.3 540.0 L475.1 541.0 L476.9 541.9 L478.7 542.9 L480.5 543.9 L482.2 544.9 L483.9 545.9 L485.7 546.8 L487.6 547.7 L489.8 548.3 L492.3 548.8 L495.1 549.1 L498.0 549.3 L501.0 549.4 L503.8 549.4 L506.3 549.2 L508.4 549.0 L510.4 548.7 L512.2 548.2 L513.9 547.6 L515.6 547.0 L517.4 546.4 L519.2 545.8 L521.1 545.1 L522.9 544.3 L524.8 543.5 L526.6 542.6 L528.4 541.7 L530.2 540.7 L532.0 539.6 L533.7 538.5 L535.4 537.3 L537.2 536.0 L539.0 534.6 L540.8 533.1 L542.6 531.4 L544.5 529.6 L546.3 527.8 L548.2 525.9 L550.0 524.0 L551.9 522.1 L553.7 520.1 L555.5 518.1 L557.3 516.1 L559.1 514.1 L560.9 512.2 L562.7 510.3 L564.6 508.4 L566.5 506.6 L568.3 504.8 L570.2 503.1 L572.0 501.6 L573.8 500.2 L575.5 499.0 L577.3 497.9 L579.0 496.9 L580.8 495.9 L582.6 495.0 L584.4 494.2 L586.3 493.4 L588.1 492.7 L590.0 492.1 L591.8 491.5 L593.7 491.0 L595.5 490.5 L597.4 490.0 L599.2 489.6 L601.1 489.2 L602.9 488.9 L604.8 488.6 L606.6 488.4 L608.4 488.3 L610.2 488.2 L612.0 488.1 L613.8 488.0 L615.6 487.9 L617.4 487.8 L619.1 487.6 L620.8 487.3 L622.5 487.2 L624.2 487.2 L626.0 487.5 L627.8 488.0 L629.7 488.8 L631.6 489.7 L633.6 490.7 L635.5 491.5 L637.3 492.2 L639.1 492.5 L640.9 492.7 L642.6 492.8 L644.4 492.8 L646.1 493.0 L647.9 493.3 L649.8 493.9 L651.6 494.7 L653.5 495.6 L655.4 496.5 L657.3 497.3 L659.2 498.1 L661.2 498.8 L663.1 499.4 L665.1 500.1 L667.0 500.6 L668.9 501.2 L670.8 501.6 L672.6 501.9 L674.3 502.2 L676.0 502.3 L677.7 502.4 L679.4 502.6 L681.2 502.8 L683.0 503.1 L684.8 503.4 L686.7 503.7 L688.5 504.0 L690.4 504.3 L692.3 504.4 L694.1 504.5 L696.0 504.6 L697.8 504.6 L699.7 504.5 L701.5 504.3 L703.3 504.0 L705.1 503.5 L706.9 502.9 L708.7 502.2 L710.4 501.4 L712.2 500.6 L714.0 499.7 L715.8 498.9 L717.6 497.9 L719.4 497.0 L721.2 496.0 L723.0 495.0 L724.8 494.1 L726.6 493.1 L728.4 492.2 L730.2 491.3 L732.0 490.4 L733.8 489.5 L735.7 488.6 L737.5 487.7 L739.4 486.7 L741.3 485.8 L743.2 484.8 L745.1 484.0 L747.0 483.2 L748.8 482.6 L750.6 482.1 L752.4 481.7 L754.2 481.4 L756.0 480.9 L757.8 480.4 L759.7 479.6 L761.5 478.7 L763.4 477.7 L765.2 476.8 L767.1 476.1 L768.9 475.7 L770.7 475.6 L772.5 475.8 L774.2 476.2 L776.0 476.8 L777.7 477.4 L779.5 478.0 L781.3 478.7 L783.0 479.4 L784.7 480.2 L786.5 481.1 L788.5 481.9 L790.6 482.7 L793.1 483.6 L795.8 484.4 L798.7 485.3 L801.6 486.1 L804.3 486.8 L806.8 487.5 L808.9 487.9 L810.9 488.4 L812.7 488.7 L814.4 488.9 L816.1 489.1 L817.9 489.1 L819.7 488.9 L821.5 488.6 L823.3 488.1 L825.1 487.7 L826.9 487.3 L828.7 487.0 L830.5 486.9 L832.2 487.0 L833.9 487.2 L835.7 487.3 L837.7 487.3 L839.8 487.0 L842.3 486.4 L845.0 485.5 L847.8 484.5 L850.7 483.4 L853.4 482.4 L855.8 481.6 L858.0 480.8 L860.0 480.0 L861.8 479.3 L863.6 478.7 L865.4 478.2 L867.2 478.0 L869.0 478.1 L870.8 478.4 L872.6 478.8 L874.4 479.3 L876.2 479.9 L878.0 480.4 L879.9 480.8 L881.8 481.3 L883.7 481.8 L885.6 482.3 L887.5 482.8 L889.3 483.2 L891.2 483.6 L893.0 483.8 L894.8 484.1 L896.6 484.4 L898.4 484.9 L900.2 485.6 L902.0 486.5 L903.8 487.7 L905.6 489.0 L907.4 490.4 L909.2 491.9 L911.0 493.3 L912.8 494.8 L914.6 496.4 L916.4 498.0 L918.3 499.7 L920.1 501.3 L921.9 502.8 L923.7 504.2 L925.6 505.6 L927.4 507.0 L929.3 508.3 L931.1 509.7 L933.0 511.0 L934.8 512.4 L936.7 513.9 L938.5 515.3 L940.4 516.7 L942.2 518.1 L944.1 519.3 L945.8 520.4 L947.6 521.5 L949.3 522.5 L951.1 523.4 L952.9 524.3 L954.7 525.2 L956.5 526.1 L958.4 526.9 L960.3 527.7 L962.2 528.5 L964.1 529.2 L966.0 529.9 L967.8 530.6 L969.6 531.2 L971.4 531.7 L973.2 532.3 L975.0 532.7 L976.8 533.0 L978.7 533.1 L980.5 533.1 L982.4 533.0 L984.3 532.9 L986.1 532.8 L987.9 532.7 L989.7 532.8 L991.5 532.9 L993.3 533.0 L995.0 533.1 L996.8 533.3 L998.5 533.4 L1000.3 533.7 L1002.1 533.9 L1003.8 534.2 L1005.6 534.5 L1007.4 534.8 L1009.2 535.1 L1011.0 535.5 L1012.8 535.8 L1014.7 536.3 L1016.5 536.7 L1018.4 537.1 L1020.2 537.5 L1022.1 537.8 L1023.9 538.0 L1025.8 538.3 L1027.6 538.6 L1029.5 538.9 L1031.3 539.3 L1033.1 539.9 L1034.9 540.6 L1036.7 541.3 L1038.5 542.1 L1040.4 542.9 L1042.2 543.6 L1044.1 544.3 L1046.0 545.0 L1048.0 545.7 L1049.9 546.3 L1051.7 547.0 L1053.3 547.6 L1054.6 548.2 L1055.7 548.8 L1056.7 549.4 L1057.7 549.9 L1058.7 550.3 L1060.0 550.7 L1061.5 550.9 L1063.0 551.0 L1064.7 551.0 L1066.4 550.9 L1068.2 550.8 L1069.9 550.7 L1071.6 550.5 L1073.4 550.2 L1075.2 549.9 L1076.9 549.5 L1078.7 549.2 L1080.5 548.8 L1082.3 548.4 L1084.1 548.0 L1085.9 547.5 L1087.7 547.0 L1089.5 546.5 L1091.4 545.9 L1093.2 545.4 L1095.1 544.8 L1096.9 544.2 L1098.8 543.5 L1100.6 542.7 L1102.5 541.7 L1104.3 540.5 L1106.1 539.1 L1107.9 537.5 L1109.7 535.9 L1111.5 534.1 L1113.3 532.3 L1115.1 530.3 L1116.9 528.2 L1118.7 525.9 L1120.5 523.7 L1122.3 521.4 L1124.2 519.3 L1126.0 517.2 L1127.8 515.2 L1129.6 513.2 L1131.4 511.2 L1133.2 509.3 L1135.0 507.5 L1136.8 505.7 L1138.7 504.0 L1140.5 502.4 L1142.4 500.8 L1144.2 499.4 L1146.1 498.1 L1147.9 496.9 L1149.8 495.8 L1151.6 494.9 L1153.5 494.0 L1155.3 493.3 L1157.2 492.6 L1159.0 492.1 L1160.8 491.7 L1162.6 491.4 L1164.4 491.2 L1166.2 491.1 L1168.0 491.0 L1169.9 490.9 L1171.7 490.9 L1173.5 490.9 L1175.4 491.0 L1177.3 491.3 L1179.1 491.7 L1181.0 492.4 L1182.8 493.2 L1184.7 494.2 L1186.5 495.3 L1188.4 496.4 L1190.2 497.4 L1192.0 498.3 L1193.7 499.2 L1195.5 500.1 L1197.2 500.9 L1199.0 501.9 L1200.8 502.8 L1202.7 503.7 L1204.5 504.7 L1206.5 505.7 L1208.4 506.7 L1210.3 507.7 L1212.1 508.7 L1214.1 509.6 L1216.1 510.7 L1218.1 511.6 L1220.0 512.5 L1221.6 513.3 L1222.7 513.9" fill="none" stroke="#ecd97f" stroke-width="1.4" stroke-linejoin="round" clip-path="url(#plot)"/>
<path d="M10.5 489.1 L14.5 490.3 L20.0 487.9 L25.4 486.3 L30.9 506.3 L36.4 508.2 L41.8 515.8 L47.3 500.4 L52.8 487.5 L58.3 490.3 L63.7 482.3 L69.2 482.3 L74.7 491.7 L80.1 494.5 L85.6 485.1 L91.1 504.4 L96.5 499.7 L102.0 509.2 L107.5 489.3 L113.0 514.6 L118.4 529.9 L123.9 521.7 L129.4 522.8 L134.8 529.2 L140.3 526.4 L145.8 519.3 L151.2 522.1 L156.7 509.4 L162.2 529.9 L167.7 530.4 L173.1 534.2 L178.6 538.6 L184.1 539.3 L189.5 538.9 L195.0 517.4 L200.5 517.4 L205.9 528.7 L211.4 531.8 L216.9 516.9 L222.4 492.2 L227.8 485.6 L233.3 482.7 L238.8 507.5 L244.2 521.7 L249.7 537.5 L255.2 520.5 L260.6 525.7 L266.1 514.6 L271.6 511.0 L277.1 528.0 L282.5 529.4 L288.0 535.1 L293.5 528.0 L298.9 516.9 L304.4 499.7 L309.9 493.3 L315.3 492.2 L320.8 481.6 L326.3 491.0 L331.8 478.5 L337.2 469.8 L342.7 468.1 L348.2 466.7 L353.6 489.8 L359.1 509.9 L364.6 500.4 L370.1 518.8 L375.5 513.9 L381.0 508.7 L386.5 502.3 L391.9 508.2 L397.4 508.2 L402.9 509.9 L408.3 513.4 L413.8 515.3 L419.3 540.5 L424.8 551.1 L430.2 539.3 L435.7 542.9 L441.2 539.3 L446.6 533.4 L452.1 559.4 L457.6 560.6 L463.0 549.2 L468.5 548.3 L474.0 552.3 L479.4 550.7 L484.9 554.7 L490.4 560.1 L495.9 565.3 L501.3 537.7 L506.8 532.3 L512.3 524.7 L517.7 518.1 L523.2 516.2 L528.7 506.3 L534.1 503.5 L539.6 505.1 L545.1 494.1 L550.6 487.0 L556.0 471.4 L561.5 464.3 L567.0 491.0 L572.4 481.6 L577.9 489.3 L583.4 483.9 L588.9 494.5 L594.3 484.6 L599.8 495.7 L605.3 487.5 L610.7 505.1 L616.2 494.5 L621.7 487.0 L627.1 479.2 L632.6 506.3 L638.1 505.6 L643.5 501.1 L649.0 500.0 L654.5 506.3 L660.0 518.1 L665.4 525.7 L670.9 515.8 L676.4 507.5 L681.8 495.2 L687.3 515.8 L692.8 499.7 L698.2 485.1 L703.7 475.2 L709.2 470.5 L714.7 462.7 L720.1 461.5 L725.6 469.1 L731.1 461.5 L736.5 473.3 L742.0 488.6 L747.5 496.4 L752.9 487.5 L758.4 473.3 L763.9 472.1 L769.4 465.8 L774.8 520.0 L780.3 511.0 L785.8 506.8 L791.2 488.6 L796.7 482.7 L802.2 482.7 L807.6 479.7 L813.1 488.6 L818.6 501.1 L824.1 479.2 L829.5 463.4 L835.0 465.0 L840.5 483.4 L845.9 472.6 L851.4 478.0 L856.9 478.0 L862.3 470.9 L867.8 467.4 L873.3 500.0 L878.8 498.5 L884.2 506.3 L889.7 507.0 L895.2 505.8 L900.6 504.0 L906.1 514.6 L911.6 531.8 L917.0 526.8 L922.5 540.0 L928.0 526.8 L933.5 541.7 L938.9 535.1 L944.4 534.2 L949.9 548.1 L955.3 535.8 L960.8 526.8 L966.3 542.9 L971.8 542.9 L977.2 520.5 L982.7 516.5 L988.2 515.3 L993.6 540.0 L999.1 539.3 L1004.6 539.8 L1010.0 558.7 L1015.5 548.3 L1021.0 558.2 L1026.4 547.6 L1031.9 551.6 L1037.4 571.9 L1042.9 566.5 L1048.3 573.1 L1053.8 545.2 L1059.3 541.7 L1064.7 528.7 L1070.2 525.9 L1075.7 544.5 L1081.1 539.3 L1086.6 532.7 L1092.1 530.4 L1097.6 520.5 L1103.0 516.5 L1108.5 489.8 L1114.0 482.7 L1119.4 482.3 L1124.9 480.4 L1130.4 479.2 L1135.8 473.8 L1141.3 470.9 L1146.8 466.2 L1152.3 489.8 L1157.7 504.4 L1163.2 504.4 L1168.7 522.8 L1174.1 518.1 L1179.6 517.4 L1185.1 528.0 L1190.5 533.4 L1196.0 532.3 L1201.5 509.2 L1207.0 504.0 L1212.4 518.6 L1217.9 508.0 L1223.4 507.5" fill="none" stroke="#6f5bb0" stroke-width="1.2" stroke-linejoin="round"/>
<g><path d="M656.68 438.3 V427.2 L665.43 421.3 L674.18 427.2 V438.3 Q674.18 440.1 672.43 440.1 H658.43 Q656.68 440.1 656.68 438.3 Z" fill="#fff" fill-opacity="0.92" stroke="#22876f" stroke-width="1.7" stroke-linejoin="round"/><text x="665.43" y="435.4" font-size="11" text-anchor="middle" fill="#22876f">E</text></g>
<g><path d="M733.26 424.5 Q733.26 422.8 735.01 422.8 H749.01 Q750.76 422.8 750.76 424.5 V435.6 L742.01 441 L733.26 435.6 Z" fill="#fff" fill-opacity="0.92" stroke="#d03a55" stroke-width="1.7" stroke-linejoin="round"/><text x="742.01" y="435.4" font-size="11" text-anchor="middle" fill="#d03a55">E</text></g>
<g><path d="M815.31 438.3 V427.2 L824.06 421.3 L832.81 427.2 V438.3 Q832.81 440.1 831.06 440.1 H817.06 Q815.31 440.1 815.31 438.3 Z" fill="#fff" fill-opacity="0.92" stroke="#22876f" stroke-width="1.7" stroke-linejoin="round"/><text x="824.06" y="435.4" font-size="11" text-anchor="middle" fill="#22876f">E</text></g>
<g><path d="M875.4799999999999 424.5 Q875.4799999999999 422.8 877.2299999999999 422.8 H891.2299999999999 Q892.9799999999999 422.8 892.9799999999999 424.5 V435.6 L884.2299999999999 441 L875.4799999999999 435.6 Z" fill="#fff" fill-opacity="0.92" stroke="#d03a55" stroke-width="1.7" stroke-linejoin="round"/><text x="884.2299999999999" y="435.4" font-size="11" text-anchor="middle" fill="#d03a55">E</text></g>
<g><path d="M941.12 438.3 V427.2 L949.87 421.3 L958.62 427.2 V438.3 Q958.62 440.1 956.87 440.1 H942.87 Q941.12 440.1 941.12 438.3 Z" fill="#fff" fill-opacity="0.92" stroke="#22876f" stroke-width="1.7" stroke-linejoin="round"/><text x="949.87" y="435.4" font-size="11" text-anchor="middle" fill="#22876f">E</text></g>
<g><path d="M1017.6999999999998 438.3 V427.2 L1026.4499999999998 421.3 L1035.1999999999998 427.2 V438.3 Q1035.1999999999998 440.1 1033.4499999999998 440.1 H1019.4499999999998 Q1017.6999999999998 440.1 1017.6999999999998 438.3 Z" fill="#fff" fill-opacity="0.92" stroke="#22876f" stroke-width="1.7" stroke-linejoin="round"/><text x="1026.4499999999998" y="435.4" font-size="11" text-anchor="middle" fill="#22876f">E</text></g>
<g><path d="M1105.22 438.3 V427.2 L1113.97 421.3 L1122.72 427.2 V438.3 Q1122.72 440.1 1120.97 440.1 H1106.97 Q1105.22 440.1 1105.22 438.3 Z" fill="#fff" fill-opacity="0.92" stroke="#22876f" stroke-width="1.7" stroke-linejoin="round"/><text x="1113.97" y="435.4" font-size="11" text-anchor="middle" fill="#22876f">E</text></g>
<g><path d="M1159.9199999999998 438.3 V427.2 L1168.6699999999998 421.3 L1177.4199999999998 427.2 V438.3 Q1177.4199999999998 440.1 1175.6699999999998 440.1 H1161.6699999999998 Q1159.9199999999998 440.1 1159.9199999999998 438.3 Z" fill="#fff" fill-opacity="0.92" stroke="#22876f" stroke-width="1.7" stroke-linejoin="round"/><text x="1168.6699999999998" y="435.4" font-size="11" text-anchor="middle" fill="#22876f">E</text></g>
<g><rect x="1225.65" y="422.8" width="17.5" height="17" rx="2.2" fill="#fff" stroke="#c653d9" stroke-width="1.5"/><rect x="1223.5" y="428.6" width="3" height="5" fill="#fff"/><path d="M1222 430.5 H1228 M1222 433 H1228" stroke="#c653d9" stroke-width="1"/><text x="1234.6000000000001" y="435.4" font-size="11" text-anchor="middle" fill="#c653d9">E</text></g>
<text x="1296.5" y="37.699999999999996" font-size="12" fill="#131722" textLength="35" lengthAdjust="spacingAndGlyphs">440.00</text>
<text x="1296.5" y="109.39999999999999" font-size="12" fill="#131722" textLength="35" lengthAdjust="spacingAndGlyphs">285.00</text>
<text x="1296.5" y="149.20000000000002" font-size="12" fill="#131722" textLength="35" lengthAdjust="spacingAndGlyphs">225.00</text>
<text x="1296.5" y="182.0" font-size="12" fill="#131722" textLength="35" lengthAdjust="spacingAndGlyphs">185.00</text>
<text x="1296.5" y="221.70000000000002" font-size="12" fill="#131722" textLength="35" lengthAdjust="spacingAndGlyphs">145.00</text>
<text x="1296.5" y="260.90000000000003" font-size="12" fill="#131722" textLength="35" lengthAdjust="spacingAndGlyphs">115.00</text>
<text x="1296.5" y="292.0" font-size="12" fill="#131722" textLength="28.6" lengthAdjust="spacingAndGlyphs">95.00</text>
<text x="1296.5" y="322.6" font-size="12" fill="#131722" textLength="28.6" lengthAdjust="spacingAndGlyphs">79.00</text>
<text x="1296.5" y="360.3" font-size="12" fill="#131722" textLength="28.6" lengthAdjust="spacingAndGlyphs">63.00</text>
<text x="1296.5" y="395.5" font-size="12" fill="#131722" textLength="28.6" lengthAdjust="spacingAndGlyphs">51.00</text>
<text x="1296.5" y="427.6" font-size="12" fill="#131722" textLength="28.6" lengthAdjust="spacingAndGlyphs">42.00</text>
<text x="1296.5" y="470.90000000000003" font-size="12" fill="#131722" textLength="28.6" lengthAdjust="spacingAndGlyphs">80.00</text>
<text x="1296.5" y="575.9" font-size="12" fill="#131722" textLength="28.6" lengthAdjust="spacingAndGlyphs">40.00</text>
<rect x="1291.5" y="-6" width="49.5" height="25" rx="4" fill="#fff" stroke="#eceef2" stroke-width="1"/>
<text x="1300.4" y="11.8" font-size="12" fill="#131722" textLength="17.8" lengthAdjust="spacingAndGlyphs">INR</text>
<rect x="1288" y="36" width="49" height="30.5" rx="1" fill="#1d6a25"/>
<text x="1296.3" y="48.9" font-size="12" fill="#d9f7da" font-weight="bold" textLength="35" lengthAdjust="spacingAndGlyphs">413.25</text>
<text x="1296.3" y="62.9" font-size="12" fill="#b4e2b6" font-weight="bold" textLength="29.3" lengthAdjust="spacingAndGlyphs">4d 0h</text>
<rect x="1288" y="66.5" width="49" height="34" rx="1" fill="#2b66f5"/>
<text x="1296.3" y="79.7" font-size="12" fill="#fff" font-weight="bold" textLength="35" lengthAdjust="spacingAndGlyphs">413.05</text>
<text x="1296.3" y="96.9" font-size="12" fill="#fff" font-weight="bold" textLength="34.5" lengthAdjust="spacingAndGlyphs">383.41</text>
<rect x="1256" y="67.3" width="31" height="16.4" rx="1" fill="#2b66f5"/>
<text x="1261" y="79.7" font-size="12" fill="#fff" font-weight="bold" textLength="21.3" lengthAdjust="spacingAndGlyphs">Post</text>
<rect x="1288" y="428.5" width="53.5" height="15.5" fill="#26a69a"/>
<text x="1296.5" y="440.6" font-size="12" fill="#fff" font-weight="bold" textLength="28.5" lengthAdjust="spacingAndGlyphs">14.68</text>
<text x="1327.2" y="440.6" font-size="12" fill="#fff" font-weight="bold" textLength="9.5" lengthAdjust="spacingAndGlyphs">M</text>
<rect x="1288.4" y="500.6" width="43" height="16.2" rx="1" fill="#7e57c2"/>
<text x="1296.5" y="512.9" font-size="12" fill="#fff" font-weight="bold" textLength="28.8" lengthAdjust="spacingAndGlyphs">64.31</text>
<rect x="1288.4" y="516.8" width="43" height="17" rx="1" fill="#f7cf2f"/>
<text x="1296.5" y="529.6" font-size="12" fill="#1a1a1a" font-weight="bold" textLength="28.8" lengthAdjust="spacingAndGlyphs">61.75</text>
<g clip-path="url(#plot)">
<text x="8.3" y="630.2" font-size="12" fill="#131722" textLength="15" lengthAdjust="spacingAndGlyphs" text-anchor="middle">Jul</text>
<text x="150.8" y="630.2" font-size="12" fill="#131722" font-weight="bold" textLength="26.8" lengthAdjust="spacingAndGlyphs" text-anchor="middle">2022</text>
<text x="293" y="630.2" font-size="12" fill="#131722" textLength="15" lengthAdjust="spacingAndGlyphs" text-anchor="middle">Jul</text>
<text x="435.3" y="630.2" font-size="12" fill="#131722" font-weight="bold" textLength="26.8" lengthAdjust="spacingAndGlyphs" text-anchor="middle">2023</text>
<text x="577.3" y="630.2" font-size="12" fill="#131722" textLength="15" lengthAdjust="spacingAndGlyphs" text-anchor="middle">Jul</text>
<text x="719.8" y="630.2" font-size="12" fill="#131722" font-weight="bold" textLength="26.8" lengthAdjust="spacingAndGlyphs" text-anchor="middle">2024</text>
<text x="862.5" y="630.2" font-size="12" fill="#131722" textLength="15" lengthAdjust="spacingAndGlyphs" text-anchor="middle">Jul</text>
<text x="1009.5" y="630.2" font-size="12" fill="#131722" font-weight="bold" textLength="26.8" lengthAdjust="spacingAndGlyphs" text-anchor="middle">2025</text>
<text x="1152.3" y="630.2" font-size="12" fill="#131722" textLength="15" lengthAdjust="spacingAndGlyphs" text-anchor="middle">Jul</text>
</g>
<text x="18.2" y="8.9" font-size="13" fill="#131722" textLength="141.6" lengthAdjust="spacingAndGlyphs">Bharat Electronics Limited</text>
<text x="164.6" y="8.9" font-size="13" fill="#131722" textLength="3" lengthAdjust="spacingAndGlyphs">·</text>
<text x="173" y="8.9" font-size="13" fill="#131722" textLength="15" lengthAdjust="spacingAndGlyphs">1W</text>
<text x="193" y="8.9" font-size="13" fill="#131722" textLength="3" lengthAdjust="spacingAndGlyphs">·</text>
<text x="200.4" y="8.9" font-size="13" fill="#131722" textLength="19.2" lengthAdjust="spacingAndGlyphs">NSE</text>
<text x="228" y="8.9" font-size="13" fill="#131722" textLength="42.5" lengthAdjust="spacingAndGlyphs">O412.70</text>
<text x="279" y="8.9" font-size="13" fill="#131722" textLength="42.7" lengthAdjust="spacingAndGlyphs">H414.90</text>
<text x="329.6" y="8.9" font-size="13" fill="#131722" textLength="41.9" lengthAdjust="spacingAndGlyphs">L407.50</text>
<text x="379" y="8.9" font-size="13" fill="#131722" textLength="42.7" lengthAdjust="spacingAndGlyphs">C413.25</text>
<text x="429.2" y="8.9" font-size="13" fill="#131722" textLength="28.4" lengthAdjust="spacingAndGlyphs">+0.60</text>
<text x="463.1" y="8.9" font-size="13" fill="#131722" textLength="44.7" lengthAdjust="spacingAndGlyphs">(+0.15%)</text>
<text x="515.3" y="8.9" font-size="13" fill="#131722" textLength="15.1" lengthAdjust="spacingAndGlyphs">Vol</text>
<text x="530.4" y="8.9" font-size="13" fill="#131722" textLength="29" lengthAdjust="spacingAndGlyphs">14.68</text>
<text x="561.6" y="8.9" font-size="13" fill="#131722" textLength="9.9" lengthAdjust="spacingAndGlyphs">M</text>
<path d="M12.1 662.3 H23.7 V676.9 H17.5 V669.3 H12.1 Z" fill="#131722"/>
<circle cx="29" cy="664.9" r="2.65" fill="#131722"/>
<path d="M33.9 662.3 H41.3 L36.1 676.9 H29.4 Z" fill="#131722"/>
<text x="49.6" y="676.9" font-size="20.4" font-weight="bold" fill="#131722" textLength="119.8" lengthAdjust="spacingAndGlyphs">TradingView</text>
</svg>
</body></html>
